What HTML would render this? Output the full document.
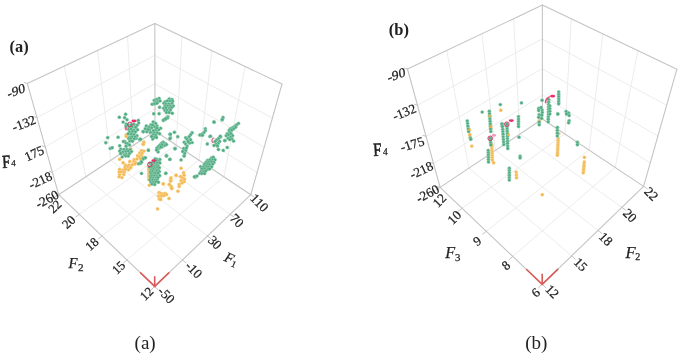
<!DOCTYPE html>
<html><head><meta charset="utf-8"><style>
html,body{margin:0;padding:0;background:#fff;width:685px;height:356px;overflow:hidden}
svg{display:block;filter:blur(0.55px)}
text{font-family:"Liberation Serif","Times New Roman",serif;fill:#222}
.tl{stroke:#222;stroke-width:0.25px}
.tt{stroke:#222;stroke-width:0.25px}
.tb{stroke:#222;stroke-width:0.6px}
</style></head><body>
<svg width="685" height="356" viewBox="0 0 685 356">
<rect width="685" height="356" fill="#fff"/>
<g stroke-linecap="round">
<line x1="64.3" y1="66.0" x2="85.8" y2="176.8" stroke="#eaeaea" stroke-width="0.9"/>
<line x1="36.9" y1="117.5" x2="154.8" y2="55.4" stroke="#eaeaea" stroke-width="0.9"/>
<line x1="97.5" y1="50.4" x2="110.7" y2="160.3" stroke="#eaeaea" stroke-width="0.9"/>
<line x1="45.2" y1="146.8" x2="154.9" y2="83.5" stroke="#eaeaea" stroke-width="0.9"/>
<line x1="127.5" y1="36.4" x2="133.7" y2="145.1" stroke="#eaeaea" stroke-width="0.9"/>
<line x1="52.4" y1="172.3" x2="154.9" y2="108.6" stroke="#eaeaea" stroke-width="0.9"/>
<line x1="182.0" y1="36.5" x2="176.2" y2="145.1" stroke="#eaeaea" stroke-width="0.9"/>
<line x1="154.8" y1="55.5" x2="272.4" y2="118.0" stroke="#eaeaea" stroke-width="0.9"/>
<line x1="211.9" y1="50.7" x2="199.1" y2="160.4" stroke="#eaeaea" stroke-width="0.9"/>
<line x1="154.9" y1="83.7" x2="264.2" y2="147.2" stroke="#eaeaea" stroke-width="0.9"/>
<line x1="245.1" y1="66.5" x2="223.9" y2="176.8" stroke="#eaeaea" stroke-width="0.9"/>
<line x1="154.9" y1="108.6" x2="257.1" y2="172.5" stroke="#eaeaea" stroke-width="0.9"/>
<line x1="79.3" y1="214.4" x2="176.1" y2="145.0" stroke="#eaeaea" stroke-width="0.9"/>
<line x1="85.9" y1="176.7" x2="182.5" y2="259.9" stroke="#eaeaea" stroke-width="0.9"/>
<line x1="102.0" y1="236.0" x2="199.0" y2="160.2" stroke="#eaeaea" stroke-width="0.9"/>
<line x1="110.9" y1="160.2" x2="207.5" y2="236.0" stroke="#eaeaea" stroke-width="0.9"/>
<line x1="127.0" y1="259.9" x2="223.8" y2="176.7" stroke="#eaeaea" stroke-width="0.9"/>
<line x1="133.8" y1="145.0" x2="230.2" y2="214.4" stroke="#eaeaea" stroke-width="0.9"/>
<line x1="27.3" y1="83.4" x2="154.8" y2="23.6" stroke="#c4c4c4" stroke-width="1.1"/>
<line x1="154.8" y1="23.6" x2="282.0" y2="84.0" stroke="#c4c4c4" stroke-width="1.1"/>
<line x1="154.8" y1="23.6" x2="155.0" y2="131.0" stroke="#c4c4c4" stroke-width="1.1"/>
<line x1="27.3" y1="83.4" x2="58.7" y2="194.7" stroke="#c4c4c4" stroke-width="1.1"/>
<line x1="282.0" y1="84.0" x2="250.8" y2="194.7" stroke="#c4c4c4" stroke-width="1.1"/>
<line x1="155.0" y1="131.0" x2="58.7" y2="194.7" stroke="#c4c4c4" stroke-width="1.1"/>
<line x1="155.0" y1="131.0" x2="250.8" y2="194.7" stroke="#c4c4c4" stroke-width="1.1"/>
<line x1="58.7" y1="194.7" x2="154.7" y2="286.4" stroke="#c4c4c4" stroke-width="1.1"/>
<line x1="154.7" y1="286.4" x2="250.8" y2="194.7" stroke="#c4c4c4" stroke-width="1.1"/>
<line x1="27.3" y1="83.4" x2="24.3" y2="82.5" stroke="#c4c4c4" stroke-width="1"/>
<line x1="36.9" y1="117.5" x2="33.9" y2="116.6" stroke="#c4c4c4" stroke-width="1"/>
<line x1="45.2" y1="146.8" x2="42.2" y2="145.9" stroke="#c4c4c4" stroke-width="1"/>
<line x1="52.4" y1="172.3" x2="49.4" y2="171.4" stroke="#c4c4c4" stroke-width="1"/>
<line x1="58.7" y1="194.7" x2="55.7" y2="193.8" stroke="#c4c4c4" stroke-width="1"/>
<line x1="58.7" y1="194.7" x2="55.3" y2="197.0" stroke="#c4c4c4" stroke-width="1"/>
<line x1="154.7" y1="286.4" x2="158.2" y2="289.8" stroke="#c4c4c4" stroke-width="1"/>
<line x1="79.3" y1="214.4" x2="75.8" y2="216.9" stroke="#c4c4c4" stroke-width="1"/>
<line x1="182.5" y1="259.9" x2="186.0" y2="262.9" stroke="#c4c4c4" stroke-width="1"/>
<line x1="102.0" y1="236.0" x2="98.5" y2="238.8" stroke="#c4c4c4" stroke-width="1"/>
<line x1="207.5" y1="236.0" x2="211.0" y2="238.7" stroke="#c4c4c4" stroke-width="1"/>
<line x1="127.0" y1="259.9" x2="123.4" y2="263.0" stroke="#c4c4c4" stroke-width="1"/>
<line x1="230.2" y1="214.4" x2="233.6" y2="216.8" stroke="#c4c4c4" stroke-width="1"/>
<line x1="154.7" y1="286.4" x2="151.2" y2="289.8" stroke="#c4c4c4" stroke-width="1"/>
<line x1="250.8" y1="194.7" x2="254.2" y2="197.0" stroke="#c4c4c4" stroke-width="1"/>
<line x1="154.7" y1="286.4" x2="140.6" y2="272.9" stroke="#d85c5a" stroke-width="1.6"/>
<line x1="154.7" y1="286.4" x2="168.8" y2="272.9" stroke="#d85c5a" stroke-width="1.6"/>
<line x1="154.7" y1="286.4" x2="154.7" y2="276.9" stroke="#d85c5a" stroke-width="1.6"/>
<line x1="446.7" y1="50.4" x2="468.9" y2="168.1" stroke="#eaeaea" stroke-width="0.9"/>
<line x1="417.5" y1="105.2" x2="542.4" y2="38.8" stroke="#eaeaea" stroke-width="0.9"/>
<line x1="481.9" y1="33.7" x2="495.4" y2="150.4" stroke="#eaeaea" stroke-width="0.9"/>
<line x1="426.0" y1="136.3" x2="542.4" y2="68.6" stroke="#eaeaea" stroke-width="0.9"/>
<line x1="513.7" y1="18.7" x2="519.8" y2="134.1" stroke="#eaeaea" stroke-width="0.9"/>
<line x1="433.5" y1="163.5" x2="542.4" y2="95.2" stroke="#eaeaea" stroke-width="0.9"/>
<line x1="571.2" y1="18.8" x2="564.9" y2="134.0" stroke="#eaeaea" stroke-width="0.9"/>
<line x1="542.4" y1="39.0" x2="666.7" y2="105.2" stroke="#eaeaea" stroke-width="0.9"/>
<line x1="602.9" y1="33.9" x2="589.1" y2="150.1" stroke="#eaeaea" stroke-width="0.9"/>
<line x1="542.4" y1="68.8" x2="657.9" y2="136.1" stroke="#eaeaea" stroke-width="0.9"/>
<line x1="637.9" y1="50.6" x2="615.2" y2="167.5" stroke="#eaeaea" stroke-width="0.9"/>
<line x1="542.4" y1="95.3" x2="650.3" y2="162.9" stroke="#eaeaea" stroke-width="0.9"/>
<line x1="462.1" y1="208.3" x2="564.8" y2="133.9" stroke="#eaeaea" stroke-width="0.9"/>
<line x1="469.0" y1="168.0" x2="571.6" y2="255.9" stroke="#eaeaea" stroke-width="0.9"/>
<line x1="486.3" y1="231.2" x2="589.0" y2="150.0" stroke="#eaeaea" stroke-width="0.9"/>
<line x1="495.6" y1="150.3" x2="598.0" y2="230.4" stroke="#eaeaea" stroke-width="0.9"/>
<line x1="512.8" y1="256.4" x2="615.2" y2="167.5" stroke="#eaeaea" stroke-width="0.9"/>
<line x1="519.9" y1="134.0" x2="621.9" y2="207.4" stroke="#eaeaea" stroke-width="0.9"/>
<line x1="407.5" y1="69.0" x2="542.4" y2="5.1" stroke="#c4c4c4" stroke-width="1.1"/>
<line x1="542.4" y1="5.1" x2="676.9" y2="69.2" stroke="#c4c4c4" stroke-width="1.1"/>
<line x1="542.4" y1="5.1" x2="542.4" y2="119.0" stroke="#c4c4c4" stroke-width="1.1"/>
<line x1="407.5" y1="69.0" x2="440.1" y2="187.4" stroke="#c4c4c4" stroke-width="1.1"/>
<line x1="676.9" y1="69.2" x2="643.6" y2="186.4" stroke="#c4c4c4" stroke-width="1.1"/>
<line x1="542.4" y1="119.0" x2="440.1" y2="187.4" stroke="#c4c4c4" stroke-width="1.1"/>
<line x1="542.4" y1="119.0" x2="643.6" y2="186.4" stroke="#c4c4c4" stroke-width="1.1"/>
<line x1="440.1" y1="187.4" x2="542.2" y2="284.3" stroke="#c4c4c4" stroke-width="1.1"/>
<line x1="542.2" y1="284.3" x2="643.6" y2="186.4" stroke="#c4c4c4" stroke-width="1.1"/>
<line x1="407.5" y1="69.0" x2="404.5" y2="68.1" stroke="#c4c4c4" stroke-width="1"/>
<line x1="417.5" y1="105.2" x2="414.5" y2="104.3" stroke="#c4c4c4" stroke-width="1"/>
<line x1="426.0" y1="136.3" x2="423.0" y2="135.4" stroke="#c4c4c4" stroke-width="1"/>
<line x1="433.5" y1="163.5" x2="430.5" y2="162.6" stroke="#c4c4c4" stroke-width="1"/>
<line x1="440.1" y1="187.4" x2="437.1" y2="186.5" stroke="#c4c4c4" stroke-width="1"/>
<line x1="440.1" y1="187.4" x2="436.4" y2="189.8" stroke="#c4c4c4" stroke-width="1"/>
<line x1="542.2" y1="284.3" x2="545.9" y2="287.8" stroke="#c4c4c4" stroke-width="1"/>
<line x1="462.1" y1="208.3" x2="458.4" y2="211.0" stroke="#c4c4c4" stroke-width="1"/>
<line x1="571.6" y1="255.9" x2="575.3" y2="259.1" stroke="#c4c4c4" stroke-width="1"/>
<line x1="486.3" y1="231.2" x2="482.5" y2="234.2" stroke="#c4c4c4" stroke-width="1"/>
<line x1="598.0" y1="230.4" x2="601.7" y2="233.3" stroke="#c4c4c4" stroke-width="1"/>
<line x1="512.8" y1="256.4" x2="509.1" y2="259.7" stroke="#c4c4c4" stroke-width="1"/>
<line x1="621.9" y1="207.4" x2="625.5" y2="210.0" stroke="#c4c4c4" stroke-width="1"/>
<line x1="542.2" y1="284.3" x2="538.5" y2="287.9" stroke="#c4c4c4" stroke-width="1"/>
<line x1="643.6" y1="186.4" x2="647.2" y2="188.8" stroke="#c4c4c4" stroke-width="1"/>
<line x1="542.2" y1="284.3" x2="526.6" y2="269.5" stroke="#d85c5a" stroke-width="1.6"/>
<line x1="542.2" y1="284.3" x2="557.7" y2="269.4" stroke="#d85c5a" stroke-width="1.6"/>
<line x1="542.2" y1="284.3" x2="542.2" y2="274.3" stroke="#d85c5a" stroke-width="1.6"/>
</g>
<g>
<circle cx="130.7" cy="148.9" r="1.72" fill="#f3b850" stroke="#fae0b0" stroke-width="0.4"/>
<circle cx="143.4" cy="142.5" r="1.72" fill="#f3b850" stroke="#fae0b0" stroke-width="0.4"/>
<circle cx="143.0" cy="144.4" r="1.72" fill="#f3b850" stroke="#fae0b0" stroke-width="0.4"/>
<circle cx="143.9" cy="142.1" r="1.72" fill="#f3b850" stroke="#fae0b0" stroke-width="0.4"/>
<circle cx="143.4" cy="144.1" r="1.72" fill="#f3b850" stroke="#fae0b0" stroke-width="0.4"/>
<circle cx="119.7" cy="159.3" r="1.72" fill="#f3b850" stroke="#fae0b0" stroke-width="0.4"/>
<circle cx="123.1" cy="162.8" r="1.72" fill="#f3b850" stroke="#fae0b0" stroke-width="0.4"/>
<circle cx="137.6" cy="155.8" r="1.72" fill="#f3b850" stroke="#fae0b0" stroke-width="0.4"/>
<circle cx="140.5" cy="157.0" r="1.72" fill="#f3b850" stroke="#fae0b0" stroke-width="0.4"/>
<circle cx="140.6" cy="159.0" r="1.72" fill="#f3b850" stroke="#fae0b0" stroke-width="0.4"/>
<circle cx="141.0" cy="161.0" r="1.72" fill="#f3b850" stroke="#fae0b0" stroke-width="0.4"/>
<circle cx="148.4" cy="166.5" r="1.72" fill="#f3b850" stroke="#fae0b0" stroke-width="0.4"/>
<circle cx="148.6" cy="169.5" r="1.72" fill="#f3b850" stroke="#fae0b0" stroke-width="0.4"/>
<circle cx="148.8" cy="172.0" r="1.72" fill="#f3b850" stroke="#fae0b0" stroke-width="0.4"/>
<circle cx="148.8" cy="174.4" r="1.72" fill="#f3b850" stroke="#fae0b0" stroke-width="0.4"/>
<circle cx="148.8" cy="176.8" r="1.72" fill="#f3b850" stroke="#fae0b0" stroke-width="0.4"/>
<circle cx="148.8" cy="179.3" r="1.72" fill="#f3b850" stroke="#fae0b0" stroke-width="0.4"/>
<circle cx="149.3" cy="185.2" r="1.72" fill="#f3b850" stroke="#fae0b0" stroke-width="0.4"/>
<circle cx="163.1" cy="183.7" r="1.72" fill="#f3b850" stroke="#fae0b0" stroke-width="0.4"/>
<circle cx="171.0" cy="177.8" r="1.72" fill="#f3b850" stroke="#fae0b0" stroke-width="0.4"/>
<circle cx="170.5" cy="180.3" r="1.72" fill="#f3b850" stroke="#fae0b0" stroke-width="0.4"/>
<circle cx="169.5" cy="184.7" r="1.72" fill="#f3b850" stroke="#fae0b0" stroke-width="0.4"/>
<circle cx="171.5" cy="187.2" r="1.72" fill="#f3b850" stroke="#fae0b0" stroke-width="0.4"/>
<circle cx="171.5" cy="188.6" r="1.72" fill="#f3b850" stroke="#fae0b0" stroke-width="0.4"/>
<circle cx="175.9" cy="175.4" r="1.72" fill="#f3b850" stroke="#fae0b0" stroke-width="0.4"/>
<circle cx="159.0" cy="192.6" r="1.72" fill="#f3b850" stroke="#fae0b0" stroke-width="0.4"/>
<circle cx="161.0" cy="193.5" r="1.72" fill="#f3b850" stroke="#fae0b0" stroke-width="0.4"/>
<circle cx="163.0" cy="194.0" r="1.72" fill="#f3b850" stroke="#fae0b0" stroke-width="0.4"/>
<circle cx="165.0" cy="193.5" r="1.72" fill="#f3b850" stroke="#fae0b0" stroke-width="0.4"/>
<circle cx="166.5" cy="194.5" r="1.72" fill="#f3b850" stroke="#fae0b0" stroke-width="0.4"/>
<circle cx="158.5" cy="196.0" r="1.72" fill="#f3b850" stroke="#fae0b0" stroke-width="0.4"/>
<circle cx="160.5" cy="196.5" r="1.72" fill="#f3b850" stroke="#fae0b0" stroke-width="0.4"/>
<circle cx="162.0" cy="195.8" r="1.72" fill="#f3b850" stroke="#fae0b0" stroke-width="0.4"/>
<circle cx="164.0" cy="195.5" r="1.72" fill="#f3b850" stroke="#fae0b0" stroke-width="0.4"/>
<circle cx="159.2" cy="199.0" r="1.72" fill="#f3b850" stroke="#fae0b0" stroke-width="0.4"/>
<circle cx="160.6" cy="199.5" r="1.72" fill="#f3b850" stroke="#fae0b0" stroke-width="0.4"/>
<circle cx="169.0" cy="198.5" r="1.72" fill="#f3b850" stroke="#fae0b0" stroke-width="0.4"/>
<circle cx="181.1" cy="168.3" r="1.72" fill="#f3b850" stroke="#fae0b0" stroke-width="0.4"/>
<circle cx="176.2" cy="175.2" r="1.72" fill="#f3b850" stroke="#fae0b0" stroke-width="0.4"/>
<circle cx="183.6" cy="172.7" r="1.72" fill="#f3b850" stroke="#fae0b0" stroke-width="0.4"/>
<circle cx="184.1" cy="175.2" r="1.72" fill="#f3b850" stroke="#fae0b0" stroke-width="0.4"/>
<circle cx="180.6" cy="176.6" r="1.72" fill="#f3b850" stroke="#fae0b0" stroke-width="0.4"/>
<circle cx="182.6" cy="178.0" r="1.72" fill="#f3b850" stroke="#fae0b0" stroke-width="0.4"/>
<circle cx="184.6" cy="179.1" r="1.72" fill="#f3b850" stroke="#fae0b0" stroke-width="0.4"/>
<circle cx="181.1" cy="180.6" r="1.72" fill="#f3b850" stroke="#fae0b0" stroke-width="0.4"/>
<circle cx="184.1" cy="181.5" r="1.72" fill="#f3b850" stroke="#fae0b0" stroke-width="0.4"/>
<circle cx="182.1" cy="183.0" r="1.72" fill="#f3b850" stroke="#fae0b0" stroke-width="0.4"/>
<circle cx="179.2" cy="184.5" r="1.72" fill="#f3b850" stroke="#fae0b0" stroke-width="0.4"/>
<circle cx="179.2" cy="186.5" r="1.72" fill="#f3b850" stroke="#fae0b0" stroke-width="0.4"/>
<circle cx="170.8" cy="178.6" r="1.72" fill="#f3b850" stroke="#fae0b0" stroke-width="0.4"/>
<circle cx="170.8" cy="181.1" r="1.72" fill="#f3b850" stroke="#fae0b0" stroke-width="0.4"/>
<circle cx="163.4" cy="184.0" r="1.72" fill="#f3b850" stroke="#fae0b0" stroke-width="0.4"/>
<circle cx="169.3" cy="184.5" r="1.72" fill="#f3b850" stroke="#fae0b0" stroke-width="0.4"/>
<circle cx="171.3" cy="186.5" r="1.72" fill="#f3b850" stroke="#fae0b0" stroke-width="0.4"/>
<circle cx="171.8" cy="188.4" r="1.72" fill="#f3b850" stroke="#fae0b0" stroke-width="0.4"/>
<circle cx="157.6" cy="208.9" r="1.72" fill="#f3b850" stroke="#fae0b0" stroke-width="0.4"/>
<circle cx="177.9" cy="191.2" r="1.72" fill="#f3b850" stroke="#fae0b0" stroke-width="0.4"/>
<circle cx="141.5" cy="150.8" r="1.72" fill="#f3b850" stroke="#fae0b0" stroke-width="0.4"/>
<circle cx="143.9" cy="151.1" r="1.72" fill="#f3b850" stroke="#fae0b0" stroke-width="0.4"/>
<circle cx="139.8" cy="152.9" r="1.72" fill="#f3b850" stroke="#fae0b0" stroke-width="0.4"/>
<circle cx="142.1" cy="153.2" r="1.72" fill="#f3b850" stroke="#fae0b0" stroke-width="0.4"/>
<circle cx="141.3" cy="155.4" r="1.72" fill="#f3b850" stroke="#fae0b0" stroke-width="0.4"/>
<circle cx="139.5" cy="157.3" r="1.72" fill="#f3b850" stroke="#fae0b0" stroke-width="0.4"/>
<circle cx="142.3" cy="157.1" r="1.72" fill="#f3b850" stroke="#fae0b0" stroke-width="0.4"/>
<circle cx="134.1" cy="159.7" r="1.72" fill="#f3b850" stroke="#fae0b0" stroke-width="0.4"/>
<circle cx="136.9" cy="159.0" r="1.72" fill="#f3b850" stroke="#fae0b0" stroke-width="0.4"/>
<circle cx="140.9" cy="158.9" r="1.72" fill="#f3b850" stroke="#fae0b0" stroke-width="0.4"/>
<circle cx="129.8" cy="161.5" r="1.72" fill="#f3b850" stroke="#fae0b0" stroke-width="0.4"/>
<circle cx="133.8" cy="161.6" r="1.72" fill="#f3b850" stroke="#fae0b0" stroke-width="0.4"/>
<circle cx="135.5" cy="162.5" r="1.72" fill="#f3b850" stroke="#fae0b0" stroke-width="0.4"/>
<circle cx="125.5" cy="165.1" r="1.72" fill="#f3b850" stroke="#fae0b0" stroke-width="0.4"/>
<circle cx="129.1" cy="165.1" r="1.72" fill="#f3b850" stroke="#fae0b0" stroke-width="0.4"/>
<circle cx="132.4" cy="164.7" r="1.72" fill="#f3b850" stroke="#fae0b0" stroke-width="0.4"/>
<circle cx="135.1" cy="163.9" r="1.72" fill="#f3b850" stroke="#fae0b0" stroke-width="0.4"/>
<circle cx="124.9" cy="167.1" r="1.72" fill="#f3b850" stroke="#fae0b0" stroke-width="0.4"/>
<circle cx="127.8" cy="166.6" r="1.72" fill="#f3b850" stroke="#fae0b0" stroke-width="0.4"/>
<circle cx="130.7" cy="167.7" r="1.72" fill="#f3b850" stroke="#fae0b0" stroke-width="0.4"/>
<circle cx="119.6" cy="169.4" r="1.72" fill="#f3b850" stroke="#fae0b0" stroke-width="0.4"/>
<circle cx="123.2" cy="170.1" r="1.72" fill="#f3b850" stroke="#fae0b0" stroke-width="0.4"/>
<circle cx="125.6" cy="169.2" r="1.72" fill="#f3b850" stroke="#fae0b0" stroke-width="0.4"/>
<circle cx="128.5" cy="169.8" r="1.72" fill="#f3b850" stroke="#fae0b0" stroke-width="0.4"/>
<circle cx="119.1" cy="172.0" r="1.72" fill="#f3b850" stroke="#fae0b0" stroke-width="0.4"/>
<circle cx="121.5" cy="172.0" r="1.72" fill="#f3b850" stroke="#fae0b0" stroke-width="0.4"/>
<circle cx="124.3" cy="172.0" r="1.72" fill="#f3b850" stroke="#fae0b0" stroke-width="0.4"/>
<circle cx="119.6" cy="174.7" r="1.72" fill="#f3b850" stroke="#fae0b0" stroke-width="0.4"/>
<circle cx="123.8" cy="174.6" r="1.72" fill="#f3b850" stroke="#fae0b0" stroke-width="0.4"/>
<circle cx="119.1" cy="176.7" r="1.72" fill="#f3b850" stroke="#fae0b0" stroke-width="0.4"/>
<circle cx="121.9" cy="177.6" r="1.72" fill="#f3b850" stroke="#fae0b0" stroke-width="0.4"/>
<circle cx="126.2" cy="134.8" r="1.72" fill="#f3b850" stroke="#fae0b0" stroke-width="0.4"/>
<circle cx="126.3" cy="136.5" r="1.72" fill="#f3b850" stroke="#fae0b0" stroke-width="0.4"/>
<circle cx="500.8" cy="110.2" r="1.72" fill="#f3b850" stroke="#fae0b0" stroke-width="0.4"/>
<circle cx="471.8" cy="146.1" r="1.72" fill="#f3b850" stroke="#fae0b0" stroke-width="0.4"/>
<circle cx="493.6" cy="162.8" r="1.72" fill="#f3b850" stroke="#fae0b0" stroke-width="0.4"/>
<circle cx="542.3" cy="194.7" r="1.72" fill="#f3b850" stroke="#fae0b0" stroke-width="0.4"/>
<circle cx="469.3" cy="129.8" r="1.72" fill="#f3b850" stroke="#fae0b0" stroke-width="0.4"/>
<circle cx="469.8" cy="134.8" r="1.72" fill="#f3b850" stroke="#fae0b0" stroke-width="0.4"/>
<circle cx="470.3" cy="137.2" r="1.72" fill="#f3b850" stroke="#fae0b0" stroke-width="0.4"/>
<circle cx="489.6" cy="116.1" r="1.72" fill="#f3b850" stroke="#fae0b0" stroke-width="0.4"/>
<circle cx="490.5" cy="126.5" r="1.72" fill="#f3b850" stroke="#fae0b0" stroke-width="0.4"/>
<circle cx="490.8" cy="128.5" r="1.72" fill="#f3b850" stroke="#fae0b0" stroke-width="0.4"/>
<circle cx="491.8" cy="144.5" r="1.72" fill="#f3b850" stroke="#fae0b0" stroke-width="0.4"/>
<circle cx="491.9" cy="146.7" r="1.72" fill="#f3b850" stroke="#fae0b0" stroke-width="0.4"/>
<circle cx="491.9" cy="148.9" r="1.72" fill="#f3b850" stroke="#fae0b0" stroke-width="0.4"/>
<circle cx="492.0" cy="151.1" r="1.72" fill="#f3b850" stroke="#fae0b0" stroke-width="0.4"/>
<circle cx="492.1" cy="153.4" r="1.72" fill="#f3b850" stroke="#fae0b0" stroke-width="0.4"/>
<circle cx="492.2" cy="155.6" r="1.72" fill="#f3b850" stroke="#fae0b0" stroke-width="0.4"/>
<circle cx="492.2" cy="157.8" r="1.72" fill="#f3b850" stroke="#fae0b0" stroke-width="0.4"/>
<circle cx="492.3" cy="160.0" r="1.72" fill="#f3b850" stroke="#fae0b0" stroke-width="0.4"/>
<circle cx="508.2" cy="134.7" r="1.72" fill="#f3b850" stroke="#fae0b0" stroke-width="0.4"/>
<circle cx="516.2" cy="172.1" r="1.72" fill="#f3b850" stroke="#fae0b0" stroke-width="0.4"/>
<circle cx="516.4" cy="174.9" r="1.72" fill="#f3b850" stroke="#fae0b0" stroke-width="0.4"/>
<circle cx="516.5" cy="177.8" r="1.72" fill="#f3b850" stroke="#fae0b0" stroke-width="0.4"/>
<circle cx="539.2" cy="120.7" r="1.72" fill="#f3b850" stroke="#fae0b0" stroke-width="0.4"/>
<circle cx="558.8" cy="133.6" r="1.72" fill="#f3b850" stroke="#fae0b0" stroke-width="0.4"/>
<circle cx="558.2" cy="138.9" r="1.72" fill="#f3b850" stroke="#fae0b0" stroke-width="0.4"/>
<circle cx="558.1" cy="140.9" r="1.72" fill="#f3b850" stroke="#fae0b0" stroke-width="0.4"/>
<circle cx="558.0" cy="143.0" r="1.72" fill="#f3b850" stroke="#fae0b0" stroke-width="0.4"/>
<circle cx="557.9" cy="145.0" r="1.72" fill="#f3b850" stroke="#fae0b0" stroke-width="0.4"/>
<circle cx="557.8" cy="147.1" r="1.72" fill="#f3b850" stroke="#fae0b0" stroke-width="0.4"/>
<circle cx="557.7" cy="149.1" r="1.72" fill="#f3b850" stroke="#fae0b0" stroke-width="0.4"/>
<circle cx="557.6" cy="151.1" r="1.72" fill="#f3b850" stroke="#fae0b0" stroke-width="0.4"/>
<circle cx="557.5" cy="153.2" r="1.72" fill="#f3b850" stroke="#fae0b0" stroke-width="0.4"/>
<circle cx="557.4" cy="155.2" r="1.72" fill="#f3b850" stroke="#fae0b0" stroke-width="0.4"/>
<circle cx="584.4" cy="157.4" r="1.72" fill="#f3b850" stroke="#fae0b0" stroke-width="0.4"/>
<circle cx="584.3" cy="161.9" r="1.72" fill="#f3b850" stroke="#fae0b0" stroke-width="0.4"/>
<circle cx="584.1" cy="164.1" r="1.72" fill="#f3b850" stroke="#fae0b0" stroke-width="0.4"/>
<circle cx="583.9" cy="166.2" r="1.72" fill="#f3b850" stroke="#fae0b0" stroke-width="0.4"/>
<circle cx="583.7" cy="168.4" r="1.72" fill="#f3b850" stroke="#fae0b0" stroke-width="0.4"/>
<circle cx="583.5" cy="170.5" r="1.72" fill="#f3b850" stroke="#fae0b0" stroke-width="0.4"/>
<circle cx="583.3" cy="172.7" r="1.72" fill="#f3b850" stroke="#fae0b0" stroke-width="0.4"/>
<circle cx="119.3" cy="117.3" r="1.72" fill="#50ab82" stroke="#b8e0cc" stroke-width="0.4"/>
<circle cx="125.6" cy="114.3" r="1.72" fill="#50ab82" stroke="#b8e0cc" stroke-width="0.4"/>
<circle cx="124.6" cy="117.7" r="1.72" fill="#50ab82" stroke="#b8e0cc" stroke-width="0.4"/>
<circle cx="127.0" cy="119.7" r="1.72" fill="#50ab82" stroke="#b8e0cc" stroke-width="0.4"/>
<circle cx="123.1" cy="122.1" r="1.72" fill="#50ab82" stroke="#b8e0cc" stroke-width="0.4"/>
<circle cx="126.1" cy="124.1" r="1.72" fill="#50ab82" stroke="#b8e0cc" stroke-width="0.4"/>
<circle cx="126.1" cy="126.3" r="1.72" fill="#50ab82" stroke="#b8e0cc" stroke-width="0.4"/>
<circle cx="107.7" cy="137.6" r="1.72" fill="#50ab82" stroke="#b8e0cc" stroke-width="0.4"/>
<circle cx="118.1" cy="137.3" r="1.72" fill="#50ab82" stroke="#b8e0cc" stroke-width="0.4"/>
<circle cx="105.8" cy="142.7" r="1.72" fill="#50ab82" stroke="#b8e0cc" stroke-width="0.4"/>
<circle cx="110.3" cy="148.4" r="1.72" fill="#50ab82" stroke="#b8e0cc" stroke-width="0.4"/>
<circle cx="112.2" cy="147.7" r="1.72" fill="#50ab82" stroke="#b8e0cc" stroke-width="0.4"/>
<circle cx="119.7" cy="145.8" r="1.72" fill="#50ab82" stroke="#b8e0cc" stroke-width="0.4"/>
<circle cx="124.8" cy="141.4" r="1.72" fill="#50ab82" stroke="#b8e0cc" stroke-width="0.4"/>
<circle cx="140.6" cy="139.5" r="1.72" fill="#50ab82" stroke="#b8e0cc" stroke-width="0.4"/>
<circle cx="138.3" cy="120.5" r="1.72" fill="#50ab82" stroke="#b8e0cc" stroke-width="0.4"/>
<circle cx="138.7" cy="123.0" r="1.72" fill="#50ab82" stroke="#b8e0cc" stroke-width="0.4"/>
<circle cx="137.1" cy="125.2" r="1.72" fill="#50ab82" stroke="#b8e0cc" stroke-width="0.4"/>
<circle cx="143.0" cy="131.5" r="1.72" fill="#50ab82" stroke="#b8e0cc" stroke-width="0.4"/>
<circle cx="139.6" cy="139.5" r="1.72" fill="#50ab82" stroke="#b8e0cc" stroke-width="0.4"/>
<circle cx="136.2" cy="138.2" r="1.72" fill="#50ab82" stroke="#b8e0cc" stroke-width="0.4"/>
<circle cx="137.5" cy="129.8" r="1.72" fill="#50ab82" stroke="#b8e0cc" stroke-width="0.4"/>
<circle cx="137.0" cy="135.7" r="1.72" fill="#50ab82" stroke="#b8e0cc" stroke-width="0.4"/>
<circle cx="123.4" cy="141.5" r="1.72" fill="#50ab82" stroke="#b8e0cc" stroke-width="0.4"/>
<circle cx="125.8" cy="143.0" r="1.72" fill="#50ab82" stroke="#b8e0cc" stroke-width="0.4"/>
<circle cx="127.8" cy="143.6" r="1.72" fill="#50ab82" stroke="#b8e0cc" stroke-width="0.4"/>
<circle cx="129.5" cy="145.0" r="1.72" fill="#50ab82" stroke="#b8e0cc" stroke-width="0.4"/>
<circle cx="126.1" cy="146.2" r="1.72" fill="#50ab82" stroke="#b8e0cc" stroke-width="0.4"/>
<circle cx="128.1" cy="124.9" r="1.72" fill="#50ab82" stroke="#b8e0cc" stroke-width="0.4"/>
<circle cx="130.9" cy="125.0" r="1.72" fill="#50ab82" stroke="#b8e0cc" stroke-width="0.4"/>
<circle cx="133.9" cy="124.4" r="1.72" fill="#50ab82" stroke="#b8e0cc" stroke-width="0.4"/>
<circle cx="129.2" cy="127.5" r="1.72" fill="#50ab82" stroke="#b8e0cc" stroke-width="0.4"/>
<circle cx="132.2" cy="126.9" r="1.72" fill="#50ab82" stroke="#b8e0cc" stroke-width="0.4"/>
<circle cx="135.6" cy="127.2" r="1.72" fill="#50ab82" stroke="#b8e0cc" stroke-width="0.4"/>
<circle cx="128.7" cy="129.5" r="1.72" fill="#50ab82" stroke="#b8e0cc" stroke-width="0.4"/>
<circle cx="131.2" cy="129.2" r="1.72" fill="#50ab82" stroke="#b8e0cc" stroke-width="0.4"/>
<circle cx="133.9" cy="129.9" r="1.72" fill="#50ab82" stroke="#b8e0cc" stroke-width="0.4"/>
<circle cx="129.7" cy="132.1" r="1.72" fill="#50ab82" stroke="#b8e0cc" stroke-width="0.4"/>
<circle cx="132.6" cy="131.5" r="1.72" fill="#50ab82" stroke="#b8e0cc" stroke-width="0.4"/>
<circle cx="135.4" cy="132.0" r="1.72" fill="#50ab82" stroke="#b8e0cc" stroke-width="0.4"/>
<circle cx="128.2" cy="133.8" r="1.72" fill="#50ab82" stroke="#b8e0cc" stroke-width="0.4"/>
<circle cx="131.4" cy="134.2" r="1.72" fill="#50ab82" stroke="#b8e0cc" stroke-width="0.4"/>
<circle cx="134.0" cy="134.6" r="1.72" fill="#50ab82" stroke="#b8e0cc" stroke-width="0.4"/>
<circle cx="129.9" cy="137.0" r="1.72" fill="#50ab82" stroke="#b8e0cc" stroke-width="0.4"/>
<circle cx="132.3" cy="136.9" r="1.72" fill="#50ab82" stroke="#b8e0cc" stroke-width="0.4"/>
<circle cx="135.0" cy="137.0" r="1.72" fill="#50ab82" stroke="#b8e0cc" stroke-width="0.4"/>
<circle cx="128.7" cy="138.5" r="1.72" fill="#50ab82" stroke="#b8e0cc" stroke-width="0.4"/>
<circle cx="130.7" cy="138.7" r="1.72" fill="#50ab82" stroke="#b8e0cc" stroke-width="0.4"/>
<circle cx="134.2" cy="138.9" r="1.72" fill="#50ab82" stroke="#b8e0cc" stroke-width="0.4"/>
<circle cx="129.8" cy="141.1" r="1.72" fill="#50ab82" stroke="#b8e0cc" stroke-width="0.4"/>
<circle cx="132.4" cy="141.2" r="1.72" fill="#50ab82" stroke="#b8e0cc" stroke-width="0.4"/>
<circle cx="120.8" cy="149.1" r="1.72" fill="#50ab82" stroke="#b8e0cc" stroke-width="0.4"/>
<circle cx="124.0" cy="149.5" r="1.72" fill="#50ab82" stroke="#b8e0cc" stroke-width="0.4"/>
<circle cx="127.0" cy="149.5" r="1.72" fill="#50ab82" stroke="#b8e0cc" stroke-width="0.4"/>
<circle cx="130.1" cy="149.6" r="1.72" fill="#50ab82" stroke="#b8e0cc" stroke-width="0.4"/>
<circle cx="119.7" cy="151.1" r="1.72" fill="#50ab82" stroke="#b8e0cc" stroke-width="0.4"/>
<circle cx="122.8" cy="152.1" r="1.72" fill="#50ab82" stroke="#b8e0cc" stroke-width="0.4"/>
<circle cx="125.8" cy="151.6" r="1.72" fill="#50ab82" stroke="#b8e0cc" stroke-width="0.4"/>
<circle cx="128.5" cy="151.2" r="1.72" fill="#50ab82" stroke="#b8e0cc" stroke-width="0.4"/>
<circle cx="131.5" cy="151.6" r="1.72" fill="#50ab82" stroke="#b8e0cc" stroke-width="0.4"/>
<circle cx="120.7" cy="153.5" r="1.72" fill="#50ab82" stroke="#b8e0cc" stroke-width="0.4"/>
<circle cx="124.3" cy="154.7" r="1.72" fill="#50ab82" stroke="#b8e0cc" stroke-width="0.4"/>
<circle cx="126.3" cy="154.4" r="1.72" fill="#50ab82" stroke="#b8e0cc" stroke-width="0.4"/>
<circle cx="129.5" cy="153.6" r="1.72" fill="#50ab82" stroke="#b8e0cc" stroke-width="0.4"/>
<circle cx="122.2" cy="156.9" r="1.72" fill="#50ab82" stroke="#b8e0cc" stroke-width="0.4"/>
<circle cx="125.7" cy="156.0" r="1.72" fill="#50ab82" stroke="#b8e0cc" stroke-width="0.4"/>
<circle cx="128.3" cy="156.0" r="1.72" fill="#50ab82" stroke="#b8e0cc" stroke-width="0.4"/>
<circle cx="159.1" cy="98.4" r="1.72" fill="#50ab82" stroke="#b8e0cc" stroke-width="0.4"/>
<circle cx="156.6" cy="99.4" r="1.72" fill="#50ab82" stroke="#b8e0cc" stroke-width="0.4"/>
<circle cx="154.2" cy="100.4" r="1.72" fill="#50ab82" stroke="#b8e0cc" stroke-width="0.4"/>
<circle cx="155.7" cy="101.9" r="1.72" fill="#50ab82" stroke="#b8e0cc" stroke-width="0.4"/>
<circle cx="158.1" cy="101.4" r="1.72" fill="#50ab82" stroke="#b8e0cc" stroke-width="0.4"/>
<circle cx="160.1" cy="100.9" r="1.72" fill="#50ab82" stroke="#b8e0cc" stroke-width="0.4"/>
<circle cx="152.2" cy="104.3" r="1.72" fill="#50ab82" stroke="#b8e0cc" stroke-width="0.4"/>
<circle cx="154.7" cy="103.8" r="1.72" fill="#50ab82" stroke="#b8e0cc" stroke-width="0.4"/>
<circle cx="157.0" cy="103.2" r="1.72" fill="#50ab82" stroke="#b8e0cc" stroke-width="0.4"/>
<circle cx="159.6" cy="107.3" r="1.72" fill="#50ab82" stroke="#b8e0cc" stroke-width="0.4"/>
<circle cx="169.2" cy="98.9" r="1.72" fill="#50ab82" stroke="#b8e0cc" stroke-width="0.4"/>
<circle cx="172.0" cy="99.5" r="1.72" fill="#50ab82" stroke="#b8e0cc" stroke-width="0.4"/>
<circle cx="165.1" cy="101.8" r="1.72" fill="#50ab82" stroke="#b8e0cc" stroke-width="0.4"/>
<circle cx="167.5" cy="100.9" r="1.72" fill="#50ab82" stroke="#b8e0cc" stroke-width="0.4"/>
<circle cx="170.4" cy="100.9" r="1.72" fill="#50ab82" stroke="#b8e0cc" stroke-width="0.4"/>
<circle cx="172.6" cy="101.2" r="1.72" fill="#50ab82" stroke="#b8e0cc" stroke-width="0.4"/>
<circle cx="163.9" cy="103.2" r="1.72" fill="#50ab82" stroke="#b8e0cc" stroke-width="0.4"/>
<circle cx="165.9" cy="104.0" r="1.72" fill="#50ab82" stroke="#b8e0cc" stroke-width="0.4"/>
<circle cx="168.8" cy="104.0" r="1.72" fill="#50ab82" stroke="#b8e0cc" stroke-width="0.4"/>
<circle cx="172.0" cy="103.5" r="1.72" fill="#50ab82" stroke="#b8e0cc" stroke-width="0.4"/>
<circle cx="165.1" cy="105.9" r="1.72" fill="#50ab82" stroke="#b8e0cc" stroke-width="0.4"/>
<circle cx="167.8" cy="105.9" r="1.72" fill="#50ab82" stroke="#b8e0cc" stroke-width="0.4"/>
<circle cx="170.4" cy="106.0" r="1.72" fill="#50ab82" stroke="#b8e0cc" stroke-width="0.4"/>
<circle cx="173.3" cy="105.9" r="1.72" fill="#50ab82" stroke="#b8e0cc" stroke-width="0.4"/>
<circle cx="163.7" cy="108.3" r="1.72" fill="#50ab82" stroke="#b8e0cc" stroke-width="0.4"/>
<circle cx="166.1" cy="107.9" r="1.72" fill="#50ab82" stroke="#b8e0cc" stroke-width="0.4"/>
<circle cx="169.5" cy="108.1" r="1.72" fill="#50ab82" stroke="#b8e0cc" stroke-width="0.4"/>
<circle cx="171.6" cy="107.6" r="1.72" fill="#50ab82" stroke="#b8e0cc" stroke-width="0.4"/>
<circle cx="165.0" cy="110.5" r="1.72" fill="#50ab82" stroke="#b8e0cc" stroke-width="0.4"/>
<circle cx="167.2" cy="110.5" r="1.72" fill="#50ab82" stroke="#b8e0cc" stroke-width="0.4"/>
<circle cx="170.4" cy="109.9" r="1.72" fill="#50ab82" stroke="#b8e0cc" stroke-width="0.4"/>
<circle cx="166.5" cy="112.6" r="1.72" fill="#50ab82" stroke="#b8e0cc" stroke-width="0.4"/>
<circle cx="169.2" cy="112.5" r="1.72" fill="#50ab82" stroke="#b8e0cc" stroke-width="0.4"/>
<circle cx="153.7" cy="113.7" r="1.72" fill="#50ab82" stroke="#b8e0cc" stroke-width="0.4"/>
<circle cx="159.1" cy="113.7" r="1.72" fill="#50ab82" stroke="#b8e0cc" stroke-width="0.4"/>
<circle cx="172.3" cy="113.3" r="1.72" fill="#50ab82" stroke="#b8e0cc" stroke-width="0.4"/>
<circle cx="167.9" cy="116.6" r="1.72" fill="#50ab82" stroke="#b8e0cc" stroke-width="0.4"/>
<circle cx="165.9" cy="118.1" r="1.72" fill="#50ab82" stroke="#b8e0cc" stroke-width="0.4"/>
<circle cx="163.4" cy="120.5" r="1.72" fill="#50ab82" stroke="#b8e0cc" stroke-width="0.4"/>
<circle cx="165.5" cy="119.0" r="1.72" fill="#50ab82" stroke="#b8e0cc" stroke-width="0.4"/>
<circle cx="167.5" cy="118.0" r="1.72" fill="#50ab82" stroke="#b8e0cc" stroke-width="0.4"/>
<circle cx="153.2" cy="121.9" r="1.72" fill="#50ab82" stroke="#b8e0cc" stroke-width="0.4"/>
<circle cx="155.7" cy="123.4" r="1.72" fill="#50ab82" stroke="#b8e0cc" stroke-width="0.4"/>
<circle cx="150.7" cy="124.9" r="1.72" fill="#50ab82" stroke="#b8e0cc" stroke-width="0.4"/>
<circle cx="146.3" cy="125.9" r="1.72" fill="#50ab82" stroke="#b8e0cc" stroke-width="0.4"/>
<circle cx="148.8" cy="127.3" r="1.72" fill="#50ab82" stroke="#b8e0cc" stroke-width="0.4"/>
<circle cx="145.3" cy="128.8" r="1.72" fill="#50ab82" stroke="#b8e0cc" stroke-width="0.4"/>
<circle cx="151.7" cy="127.8" r="1.72" fill="#50ab82" stroke="#b8e0cc" stroke-width="0.4"/>
<circle cx="154.7" cy="126.8" r="1.72" fill="#50ab82" stroke="#b8e0cc" stroke-width="0.4"/>
<circle cx="157.1" cy="125.9" r="1.72" fill="#50ab82" stroke="#b8e0cc" stroke-width="0.4"/>
<circle cx="160.6" cy="128.3" r="1.72" fill="#50ab82" stroke="#b8e0cc" stroke-width="0.4"/>
<circle cx="158.6" cy="129.8" r="1.72" fill="#50ab82" stroke="#b8e0cc" stroke-width="0.4"/>
<circle cx="155.7" cy="129.8" r="1.72" fill="#50ab82" stroke="#b8e0cc" stroke-width="0.4"/>
<circle cx="153.2" cy="130.8" r="1.72" fill="#50ab82" stroke="#b8e0cc" stroke-width="0.4"/>
<circle cx="143.4" cy="131.8" r="1.72" fill="#50ab82" stroke="#b8e0cc" stroke-width="0.4"/>
<circle cx="146.8" cy="131.8" r="1.72" fill="#50ab82" stroke="#b8e0cc" stroke-width="0.4"/>
<circle cx="150.3" cy="132.3" r="1.72" fill="#50ab82" stroke="#b8e0cc" stroke-width="0.4"/>
<circle cx="154.2" cy="132.8" r="1.72" fill="#50ab82" stroke="#b8e0cc" stroke-width="0.4"/>
<circle cx="157.1" cy="132.8" r="1.72" fill="#50ab82" stroke="#b8e0cc" stroke-width="0.4"/>
<circle cx="159.6" cy="133.7" r="1.72" fill="#50ab82" stroke="#b8e0cc" stroke-width="0.4"/>
<circle cx="153.2" cy="134.7" r="1.72" fill="#50ab82" stroke="#b8e0cc" stroke-width="0.4"/>
<circle cx="155.7" cy="135.2" r="1.72" fill="#50ab82" stroke="#b8e0cc" stroke-width="0.4"/>
<circle cx="154.2" cy="137.2" r="1.72" fill="#50ab82" stroke="#b8e0cc" stroke-width="0.4"/>
<circle cx="152.7" cy="139.1" r="1.72" fill="#50ab82" stroke="#b8e0cc" stroke-width="0.4"/>
<circle cx="140.4" cy="139.1" r="1.72" fill="#50ab82" stroke="#b8e0cc" stroke-width="0.4"/>
<circle cx="149.5" cy="129.8" r="1.72" fill="#50ab82" stroke="#b8e0cc" stroke-width="0.4"/>
<circle cx="152.5" cy="125.0" r="1.72" fill="#50ab82" stroke="#b8e0cc" stroke-width="0.4"/>
<circle cx="157.0" cy="128.0" r="1.72" fill="#50ab82" stroke="#b8e0cc" stroke-width="0.4"/>
<circle cx="151.5" cy="136.5" r="1.72" fill="#50ab82" stroke="#b8e0cc" stroke-width="0.4"/>
<circle cx="148.0" cy="129.5" r="1.72" fill="#50ab82" stroke="#b8e0cc" stroke-width="0.4"/>
<circle cx="156.5" cy="137.5" r="1.72" fill="#50ab82" stroke="#b8e0cc" stroke-width="0.4"/>
<circle cx="163.5" cy="120.0" r="1.72" fill="#50ab82" stroke="#b8e0cc" stroke-width="0.4"/>
<circle cx="165.5" cy="119.0" r="1.72" fill="#50ab82" stroke="#b8e0cc" stroke-width="0.4"/>
<circle cx="169.9" cy="134.2" r="1.72" fill="#50ab82" stroke="#b8e0cc" stroke-width="0.4"/>
<circle cx="170.4" cy="137.7" r="1.72" fill="#50ab82" stroke="#b8e0cc" stroke-width="0.4"/>
<circle cx="163.0" cy="142.1" r="1.72" fill="#50ab82" stroke="#b8e0cc" stroke-width="0.4"/>
<circle cx="165.5" cy="143.6" r="1.72" fill="#50ab82" stroke="#b8e0cc" stroke-width="0.4"/>
<circle cx="164.5" cy="145.5" r="1.72" fill="#50ab82" stroke="#b8e0cc" stroke-width="0.4"/>
<circle cx="162.1" cy="147.0" r="1.72" fill="#50ab82" stroke="#b8e0cc" stroke-width="0.4"/>
<circle cx="159.6" cy="148.0" r="1.72" fill="#50ab82" stroke="#b8e0cc" stroke-width="0.4"/>
<circle cx="157.6" cy="149.5" r="1.72" fill="#50ab82" stroke="#b8e0cc" stroke-width="0.4"/>
<circle cx="158.1" cy="151.9" r="1.72" fill="#50ab82" stroke="#b8e0cc" stroke-width="0.4"/>
<circle cx="163.1" cy="142.5" r="1.72" fill="#50ab82" stroke="#b8e0cc" stroke-width="0.4"/>
<circle cx="148.3" cy="150.0" r="1.72" fill="#50ab82" stroke="#b8e0cc" stroke-width="0.4"/>
<circle cx="174.4" cy="132.3" r="1.72" fill="#50ab82" stroke="#b8e0cc" stroke-width="0.4"/>
<circle cx="170.4" cy="134.3" r="1.72" fill="#50ab82" stroke="#b8e0cc" stroke-width="0.4"/>
<circle cx="169.9" cy="138.7" r="1.72" fill="#50ab82" stroke="#b8e0cc" stroke-width="0.4"/>
<circle cx="177.8" cy="136.7" r="1.72" fill="#50ab82" stroke="#b8e0cc" stroke-width="0.4"/>
<circle cx="166.5" cy="144.6" r="1.72" fill="#50ab82" stroke="#b8e0cc" stroke-width="0.4"/>
<circle cx="175.3" cy="148.5" r="1.72" fill="#50ab82" stroke="#b8e0cc" stroke-width="0.4"/>
<circle cx="174.9" cy="148.8" r="1.72" fill="#50ab82" stroke="#b8e0cc" stroke-width="0.4"/>
<circle cx="166.5" cy="155.4" r="1.72" fill="#50ab82" stroke="#b8e0cc" stroke-width="0.4"/>
<circle cx="166.5" cy="155.7" r="1.72" fill="#50ab82" stroke="#b8e0cc" stroke-width="0.4"/>
<circle cx="170.0" cy="159.2" r="1.72" fill="#50ab82" stroke="#b8e0cc" stroke-width="0.4"/>
<circle cx="143.0" cy="158.7" r="1.72" fill="#50ab82" stroke="#b8e0cc" stroke-width="0.4"/>
<circle cx="144.5" cy="157.8" r="1.72" fill="#50ab82" stroke="#b8e0cc" stroke-width="0.4"/>
<circle cx="141.5" cy="162.6" r="1.72" fill="#50ab82" stroke="#b8e0cc" stroke-width="0.4"/>
<circle cx="138.6" cy="163.7" r="1.72" fill="#50ab82" stroke="#b8e0cc" stroke-width="0.4"/>
<circle cx="140.5" cy="163.2" r="1.72" fill="#50ab82" stroke="#b8e0cc" stroke-width="0.4"/>
<circle cx="141.5" cy="161.7" r="1.72" fill="#50ab82" stroke="#b8e0cc" stroke-width="0.4"/>
<circle cx="143.5" cy="158.8" r="1.72" fill="#50ab82" stroke="#b8e0cc" stroke-width="0.4"/>
<circle cx="145.5" cy="157.8" r="1.72" fill="#50ab82" stroke="#b8e0cc" stroke-width="0.4"/>
<circle cx="148.4" cy="150.4" r="1.72" fill="#50ab82" stroke="#b8e0cc" stroke-width="0.4"/>
<circle cx="141.5" cy="173.4" r="1.72" fill="#50ab82" stroke="#b8e0cc" stroke-width="0.4"/>
<circle cx="165.6" cy="173.4" r="1.72" fill="#50ab82" stroke="#b8e0cc" stroke-width="0.4"/>
<circle cx="166.4" cy="156.0" r="1.72" fill="#50ab82" stroke="#b8e0cc" stroke-width="0.4"/>
<circle cx="169.8" cy="159.4" r="1.72" fill="#50ab82" stroke="#b8e0cc" stroke-width="0.4"/>
<circle cx="181.1" cy="159.9" r="1.72" fill="#50ab82" stroke="#b8e0cc" stroke-width="0.4"/>
<circle cx="184.1" cy="156.0" r="1.72" fill="#50ab82" stroke="#b8e0cc" stroke-width="0.4"/>
<circle cx="165.9" cy="173.2" r="1.72" fill="#50ab82" stroke="#b8e0cc" stroke-width="0.4"/>
<circle cx="194.9" cy="177.1" r="1.72" fill="#50ab82" stroke="#b8e0cc" stroke-width="0.4"/>
<circle cx="161.5" cy="143.5" r="1.72" fill="#50ab82" stroke="#b8e0cc" stroke-width="0.4"/>
<circle cx="160.0" cy="145.0" r="1.72" fill="#50ab82" stroke="#b8e0cc" stroke-width="0.4"/>
<circle cx="158.5" cy="146.5" r="1.72" fill="#50ab82" stroke="#b8e0cc" stroke-width="0.4"/>
<circle cx="157.0" cy="148.0" r="1.72" fill="#50ab82" stroke="#b8e0cc" stroke-width="0.4"/>
<circle cx="156.5" cy="150.0" r="1.72" fill="#50ab82" stroke="#b8e0cc" stroke-width="0.4"/>
<circle cx="162.0" cy="144.8" r="1.72" fill="#50ab82" stroke="#b8e0cc" stroke-width="0.4"/>
<circle cx="160.8" cy="146.8" r="1.72" fill="#50ab82" stroke="#b8e0cc" stroke-width="0.4"/>
<circle cx="192.1" cy="132.8" r="1.72" fill="#50ab82" stroke="#b8e0cc" stroke-width="0.4"/>
<circle cx="190.6" cy="134.8" r="1.72" fill="#50ab82" stroke="#b8e0cc" stroke-width="0.4"/>
<circle cx="189.1" cy="136.7" r="1.72" fill="#50ab82" stroke="#b8e0cc" stroke-width="0.4"/>
<circle cx="185.7" cy="137.7" r="1.72" fill="#50ab82" stroke="#b8e0cc" stroke-width="0.4"/>
<circle cx="187.1" cy="139.2" r="1.72" fill="#50ab82" stroke="#b8e0cc" stroke-width="0.4"/>
<circle cx="190.6" cy="139.7" r="1.72" fill="#50ab82" stroke="#b8e0cc" stroke-width="0.4"/>
<circle cx="192.1" cy="142.6" r="1.72" fill="#50ab82" stroke="#b8e0cc" stroke-width="0.4"/>
<circle cx="189.6" cy="143.1" r="1.72" fill="#50ab82" stroke="#b8e0cc" stroke-width="0.4"/>
<circle cx="184.2" cy="142.2" r="1.72" fill="#50ab82" stroke="#b8e0cc" stroke-width="0.4"/>
<circle cx="185.7" cy="144.1" r="1.72" fill="#50ab82" stroke="#b8e0cc" stroke-width="0.4"/>
<circle cx="187.1" cy="146.1" r="1.72" fill="#50ab82" stroke="#b8e0cc" stroke-width="0.4"/>
<circle cx="183.7" cy="148.5" r="1.72" fill="#50ab82" stroke="#b8e0cc" stroke-width="0.4"/>
<circle cx="185.7" cy="150.5" r="1.72" fill="#50ab82" stroke="#b8e0cc" stroke-width="0.4"/>
<circle cx="182.7" cy="151.5" r="1.72" fill="#50ab82" stroke="#b8e0cc" stroke-width="0.4"/>
<circle cx="184.7" cy="153.5" r="1.72" fill="#50ab82" stroke="#b8e0cc" stroke-width="0.4"/>
<circle cx="184.2" cy="155.9" r="1.72" fill="#50ab82" stroke="#b8e0cc" stroke-width="0.4"/>
<circle cx="200.4" cy="134.8" r="1.72" fill="#50ab82" stroke="#b8e0cc" stroke-width="0.4"/>
<circle cx="188.0" cy="141.5" r="1.72" fill="#50ab82" stroke="#b8e0cc" stroke-width="0.4"/>
<circle cx="186.5" cy="148.0" r="1.72" fill="#50ab82" stroke="#b8e0cc" stroke-width="0.4"/>
<circle cx="223.0" cy="117.4" r="1.72" fill="#50ab82" stroke="#b8e0cc" stroke-width="0.4"/>
<circle cx="222.1" cy="119.9" r="1.72" fill="#50ab82" stroke="#b8e0cc" stroke-width="0.4"/>
<circle cx="214.2" cy="122.3" r="1.72" fill="#50ab82" stroke="#b8e0cc" stroke-width="0.4"/>
<circle cx="205.3" cy="128.7" r="1.72" fill="#50ab82" stroke="#b8e0cc" stroke-width="0.4"/>
<circle cx="205.3" cy="130.7" r="1.72" fill="#50ab82" stroke="#b8e0cc" stroke-width="0.4"/>
<circle cx="203.9" cy="132.6" r="1.72" fill="#50ab82" stroke="#b8e0cc" stroke-width="0.4"/>
<circle cx="201.9" cy="134.1" r="1.72" fill="#50ab82" stroke="#b8e0cc" stroke-width="0.4"/>
<circle cx="199.9" cy="135.1" r="1.72" fill="#50ab82" stroke="#b8e0cc" stroke-width="0.4"/>
<circle cx="202.5" cy="135.2" r="1.72" fill="#50ab82" stroke="#b8e0cc" stroke-width="0.4"/>
<circle cx="209.8" cy="136.6" r="1.72" fill="#50ab82" stroke="#b8e0cc" stroke-width="0.4"/>
<circle cx="207.3" cy="144.0" r="1.72" fill="#50ab82" stroke="#b8e0cc" stroke-width="0.4"/>
<circle cx="220.6" cy="137.1" r="1.72" fill="#50ab82" stroke="#b8e0cc" stroke-width="0.4"/>
<circle cx="218.6" cy="138.5" r="1.72" fill="#50ab82" stroke="#b8e0cc" stroke-width="0.4"/>
<circle cx="216.6" cy="140.0" r="1.72" fill="#50ab82" stroke="#b8e0cc" stroke-width="0.4"/>
<circle cx="215.2" cy="141.5" r="1.72" fill="#50ab82" stroke="#b8e0cc" stroke-width="0.4"/>
<circle cx="219.6" cy="141.5" r="1.72" fill="#50ab82" stroke="#b8e0cc" stroke-width="0.4"/>
<circle cx="218.1" cy="143.5" r="1.72" fill="#50ab82" stroke="#b8e0cc" stroke-width="0.4"/>
<circle cx="216.0" cy="144.5" r="1.72" fill="#50ab82" stroke="#b8e0cc" stroke-width="0.4"/>
<circle cx="214.0" cy="145.5" r="1.72" fill="#50ab82" stroke="#b8e0cc" stroke-width="0.4"/>
<circle cx="220.3" cy="136.2" r="1.72" fill="#50ab82" stroke="#b8e0cc" stroke-width="0.4"/>
<circle cx="217.5" cy="146.0" r="1.72" fill="#50ab82" stroke="#b8e0cc" stroke-width="0.4"/>
<circle cx="225.0" cy="140.5" r="1.72" fill="#50ab82" stroke="#b8e0cc" stroke-width="0.4"/>
<circle cx="224.7" cy="140.6" r="1.72" fill="#50ab82" stroke="#b8e0cc" stroke-width="0.4"/>
<circle cx="218.4" cy="149.5" r="1.72" fill="#50ab82" stroke="#b8e0cc" stroke-width="0.4"/>
<circle cx="223.3" cy="150.4" r="1.72" fill="#50ab82" stroke="#b8e0cc" stroke-width="0.4"/>
<circle cx="227.2" cy="147.5" r="1.72" fill="#50ab82" stroke="#b8e0cc" stroke-width="0.4"/>
<circle cx="238.5" cy="123.4" r="1.72" fill="#50ab82" stroke="#b8e0cc" stroke-width="0.4"/>
<circle cx="236.5" cy="124.9" r="1.72" fill="#50ab82" stroke="#b8e0cc" stroke-width="0.4"/>
<circle cx="234.6" cy="126.4" r="1.72" fill="#50ab82" stroke="#b8e0cc" stroke-width="0.4"/>
<circle cx="232.6" cy="127.8" r="1.72" fill="#50ab82" stroke="#b8e0cc" stroke-width="0.4"/>
<circle cx="230.6" cy="128.8" r="1.72" fill="#50ab82" stroke="#b8e0cc" stroke-width="0.4"/>
<circle cx="229.2" cy="130.3" r="1.72" fill="#50ab82" stroke="#b8e0cc" stroke-width="0.4"/>
<circle cx="235.6" cy="127.3" r="1.72" fill="#50ab82" stroke="#b8e0cc" stroke-width="0.4"/>
<circle cx="233.6" cy="128.8" r="1.72" fill="#50ab82" stroke="#b8e0cc" stroke-width="0.4"/>
<circle cx="231.6" cy="130.3" r="1.72" fill="#50ab82" stroke="#b8e0cc" stroke-width="0.4"/>
<circle cx="229.7" cy="132.3" r="1.72" fill="#50ab82" stroke="#b8e0cc" stroke-width="0.4"/>
<circle cx="227.2" cy="133.7" r="1.72" fill="#50ab82" stroke="#b8e0cc" stroke-width="0.4"/>
<circle cx="226.2" cy="135.7" r="1.72" fill="#50ab82" stroke="#b8e0cc" stroke-width="0.4"/>
<circle cx="228.7" cy="134.7" r="1.72" fill="#50ab82" stroke="#b8e0cc" stroke-width="0.4"/>
<circle cx="231.1" cy="133.7" r="1.72" fill="#50ab82" stroke="#b8e0cc" stroke-width="0.4"/>
<circle cx="232.6" cy="135.7" r="1.72" fill="#50ab82" stroke="#b8e0cc" stroke-width="0.4"/>
<circle cx="230.6" cy="137.2" r="1.72" fill="#50ab82" stroke="#b8e0cc" stroke-width="0.4"/>
<circle cx="228.2" cy="138.2" r="1.72" fill="#50ab82" stroke="#b8e0cc" stroke-width="0.4"/>
<circle cx="232.1" cy="139.1" r="1.72" fill="#50ab82" stroke="#b8e0cc" stroke-width="0.4"/>
<circle cx="233.6" cy="141.1" r="1.72" fill="#50ab82" stroke="#b8e0cc" stroke-width="0.4"/>
<circle cx="229.7" cy="139.6" r="1.72" fill="#50ab82" stroke="#b8e0cc" stroke-width="0.4"/>
<circle cx="213.9" cy="121.9" r="1.72" fill="#50ab82" stroke="#b8e0cc" stroke-width="0.4"/>
<circle cx="222.3" cy="119.5" r="1.72" fill="#50ab82" stroke="#b8e0cc" stroke-width="0.4"/>
<circle cx="210.5" cy="136.2" r="1.72" fill="#50ab82" stroke="#b8e0cc" stroke-width="0.4"/>
<circle cx="211.4" cy="158.0" r="1.72" fill="#50ab82" stroke="#b8e0cc" stroke-width="0.4"/>
<circle cx="213.3" cy="157.3" r="1.72" fill="#50ab82" stroke="#b8e0cc" stroke-width="0.4"/>
<circle cx="207.5" cy="160.5" r="1.72" fill="#50ab82" stroke="#b8e0cc" stroke-width="0.4"/>
<circle cx="209.7" cy="160.0" r="1.72" fill="#50ab82" stroke="#b8e0cc" stroke-width="0.4"/>
<circle cx="212.6" cy="159.8" r="1.72" fill="#50ab82" stroke="#b8e0cc" stroke-width="0.4"/>
<circle cx="215.0" cy="159.8" r="1.72" fill="#50ab82" stroke="#b8e0cc" stroke-width="0.4"/>
<circle cx="205.9" cy="162.4" r="1.72" fill="#50ab82" stroke="#b8e0cc" stroke-width="0.4"/>
<circle cx="208.4" cy="162.2" r="1.72" fill="#50ab82" stroke="#b8e0cc" stroke-width="0.4"/>
<circle cx="211.5" cy="161.8" r="1.72" fill="#50ab82" stroke="#b8e0cc" stroke-width="0.4"/>
<circle cx="213.9" cy="162.5" r="1.72" fill="#50ab82" stroke="#b8e0cc" stroke-width="0.4"/>
<circle cx="204.5" cy="164.3" r="1.72" fill="#50ab82" stroke="#b8e0cc" stroke-width="0.4"/>
<circle cx="207.6" cy="164.3" r="1.72" fill="#50ab82" stroke="#b8e0cc" stroke-width="0.4"/>
<circle cx="209.6" cy="164.5" r="1.72" fill="#50ab82" stroke="#b8e0cc" stroke-width="0.4"/>
<circle cx="212.7" cy="164.1" r="1.72" fill="#50ab82" stroke="#b8e0cc" stroke-width="0.4"/>
<circle cx="200.6" cy="166.6" r="1.72" fill="#50ab82" stroke="#b8e0cc" stroke-width="0.4"/>
<circle cx="203.7" cy="166.7" r="1.72" fill="#50ab82" stroke="#b8e0cc" stroke-width="0.4"/>
<circle cx="206.4" cy="166.5" r="1.72" fill="#50ab82" stroke="#b8e0cc" stroke-width="0.4"/>
<circle cx="208.4" cy="167.0" r="1.72" fill="#50ab82" stroke="#b8e0cc" stroke-width="0.4"/>
<circle cx="211.6" cy="166.8" r="1.72" fill="#50ab82" stroke="#b8e0cc" stroke-width="0.4"/>
<circle cx="201.8" cy="168.7" r="1.72" fill="#50ab82" stroke="#b8e0cc" stroke-width="0.4"/>
<circle cx="204.7" cy="168.8" r="1.72" fill="#50ab82" stroke="#b8e0cc" stroke-width="0.4"/>
<circle cx="207.6" cy="169.4" r="1.72" fill="#50ab82" stroke="#b8e0cc" stroke-width="0.4"/>
<circle cx="209.6" cy="168.9" r="1.72" fill="#50ab82" stroke="#b8e0cc" stroke-width="0.4"/>
<circle cx="201.1" cy="171.5" r="1.72" fill="#50ab82" stroke="#b8e0cc" stroke-width="0.4"/>
<circle cx="203.7" cy="171.2" r="1.72" fill="#50ab82" stroke="#b8e0cc" stroke-width="0.4"/>
<circle cx="205.6" cy="171.1" r="1.72" fill="#50ab82" stroke="#b8e0cc" stroke-width="0.4"/>
<circle cx="199.8" cy="173.4" r="1.72" fill="#50ab82" stroke="#b8e0cc" stroke-width="0.4"/>
<circle cx="201.9" cy="173.5" r="1.72" fill="#50ab82" stroke="#b8e0cc" stroke-width="0.4"/>
<circle cx="204.6" cy="173.5" r="1.72" fill="#50ab82" stroke="#b8e0cc" stroke-width="0.4"/>
<circle cx="195.4" cy="177.0" r="1.72" fill="#50ab82" stroke="#b8e0cc" stroke-width="0.4"/>
<circle cx="197.0" cy="176.0" r="1.72" fill="#50ab82" stroke="#b8e0cc" stroke-width="0.4"/>
<circle cx="194.4" cy="176.7" r="1.72" fill="#50ab82" stroke="#b8e0cc" stroke-width="0.4"/>
<circle cx="155.2" cy="158.8" r="1.72" fill="#50ab82" stroke="#b8e0cc" stroke-width="0.4"/>
<circle cx="156.8" cy="159.5" r="1.72" fill="#50ab82" stroke="#b8e0cc" stroke-width="0.4"/>
<circle cx="159.9" cy="159.5" r="1.72" fill="#50ab82" stroke="#b8e0cc" stroke-width="0.4"/>
<circle cx="153.5" cy="161.6" r="1.72" fill="#50ab82" stroke="#b8e0cc" stroke-width="0.4"/>
<circle cx="156.4" cy="160.9" r="1.72" fill="#50ab82" stroke="#b8e0cc" stroke-width="0.4"/>
<circle cx="158.6" cy="161.5" r="1.72" fill="#50ab82" stroke="#b8e0cc" stroke-width="0.4"/>
<circle cx="150.1" cy="163.3" r="1.72" fill="#50ab82" stroke="#b8e0cc" stroke-width="0.4"/>
<circle cx="152.2" cy="163.1" r="1.72" fill="#50ab82" stroke="#b8e0cc" stroke-width="0.4"/>
<circle cx="154.6" cy="162.9" r="1.72" fill="#50ab82" stroke="#b8e0cc" stroke-width="0.4"/>
<circle cx="157.3" cy="163.1" r="1.72" fill="#50ab82" stroke="#b8e0cc" stroke-width="0.4"/>
<circle cx="159.9" cy="162.9" r="1.72" fill="#50ab82" stroke="#b8e0cc" stroke-width="0.4"/>
<circle cx="151.6" cy="165.5" r="1.72" fill="#50ab82" stroke="#b8e0cc" stroke-width="0.4"/>
<circle cx="154.0" cy="165.7" r="1.72" fill="#50ab82" stroke="#b8e0cc" stroke-width="0.4"/>
<circle cx="156.4" cy="165.4" r="1.72" fill="#50ab82" stroke="#b8e0cc" stroke-width="0.4"/>
<circle cx="158.0" cy="165.6" r="1.72" fill="#50ab82" stroke="#b8e0cc" stroke-width="0.4"/>
<circle cx="149.7" cy="167.3" r="1.72" fill="#50ab82" stroke="#b8e0cc" stroke-width="0.4"/>
<circle cx="152.5" cy="167.5" r="1.72" fill="#50ab82" stroke="#b8e0cc" stroke-width="0.4"/>
<circle cx="154.7" cy="167.8" r="1.72" fill="#50ab82" stroke="#b8e0cc" stroke-width="0.4"/>
<circle cx="157.3" cy="167.3" r="1.72" fill="#50ab82" stroke="#b8e0cc" stroke-width="0.4"/>
<circle cx="159.4" cy="167.8" r="1.72" fill="#50ab82" stroke="#b8e0cc" stroke-width="0.4"/>
<circle cx="151.2" cy="169.8" r="1.72" fill="#50ab82" stroke="#b8e0cc" stroke-width="0.4"/>
<circle cx="153.5" cy="169.3" r="1.72" fill="#50ab82" stroke="#b8e0cc" stroke-width="0.4"/>
<circle cx="156.0" cy="169.8" r="1.72" fill="#50ab82" stroke="#b8e0cc" stroke-width="0.4"/>
<circle cx="158.1" cy="169.8" r="1.72" fill="#50ab82" stroke="#b8e0cc" stroke-width="0.4"/>
<circle cx="150.4" cy="171.9" r="1.72" fill="#50ab82" stroke="#b8e0cc" stroke-width="0.4"/>
<circle cx="152.7" cy="171.2" r="1.72" fill="#50ab82" stroke="#b8e0cc" stroke-width="0.4"/>
<circle cx="154.9" cy="171.9" r="1.72" fill="#50ab82" stroke="#b8e0cc" stroke-width="0.4"/>
<circle cx="156.8" cy="171.4" r="1.72" fill="#50ab82" stroke="#b8e0cc" stroke-width="0.4"/>
<circle cx="159.4" cy="171.6" r="1.72" fill="#50ab82" stroke="#b8e0cc" stroke-width="0.4"/>
<circle cx="151.1" cy="173.7" r="1.72" fill="#50ab82" stroke="#b8e0cc" stroke-width="0.4"/>
<circle cx="153.8" cy="173.3" r="1.72" fill="#50ab82" stroke="#b8e0cc" stroke-width="0.4"/>
<circle cx="155.6" cy="173.4" r="1.72" fill="#50ab82" stroke="#b8e0cc" stroke-width="0.4"/>
<circle cx="158.1" cy="173.3" r="1.72" fill="#50ab82" stroke="#b8e0cc" stroke-width="0.4"/>
<circle cx="150.4" cy="176.1" r="1.72" fill="#50ab82" stroke="#b8e0cc" stroke-width="0.4"/>
<circle cx="152.0" cy="175.8" r="1.72" fill="#50ab82" stroke="#b8e0cc" stroke-width="0.4"/>
<circle cx="154.6" cy="175.6" r="1.72" fill="#50ab82" stroke="#b8e0cc" stroke-width="0.4"/>
<circle cx="157.1" cy="175.9" r="1.72" fill="#50ab82" stroke="#b8e0cc" stroke-width="0.4"/>
<circle cx="159.7" cy="175.7" r="1.72" fill="#50ab82" stroke="#b8e0cc" stroke-width="0.4"/>
<circle cx="150.9" cy="177.7" r="1.72" fill="#50ab82" stroke="#b8e0cc" stroke-width="0.4"/>
<circle cx="153.3" cy="177.9" r="1.72" fill="#50ab82" stroke="#b8e0cc" stroke-width="0.4"/>
<circle cx="156.2" cy="177.8" r="1.72" fill="#50ab82" stroke="#b8e0cc" stroke-width="0.4"/>
<circle cx="158.0" cy="177.6" r="1.72" fill="#50ab82" stroke="#b8e0cc" stroke-width="0.4"/>
<circle cx="149.9" cy="180.1" r="1.72" fill="#50ab82" stroke="#b8e0cc" stroke-width="0.4"/>
<circle cx="152.7" cy="179.9" r="1.72" fill="#50ab82" stroke="#b8e0cc" stroke-width="0.4"/>
<circle cx="155.1" cy="180.1" r="1.72" fill="#50ab82" stroke="#b8e0cc" stroke-width="0.4"/>
<circle cx="157.1" cy="179.9" r="1.72" fill="#50ab82" stroke="#b8e0cc" stroke-width="0.4"/>
<circle cx="151.2" cy="182.2" r="1.72" fill="#50ab82" stroke="#b8e0cc" stroke-width="0.4"/>
<circle cx="153.5" cy="182.2" r="1.72" fill="#50ab82" stroke="#b8e0cc" stroke-width="0.4"/>
<circle cx="156.0" cy="181.8" r="1.72" fill="#50ab82" stroke="#b8e0cc" stroke-width="0.4"/>
<circle cx="158.4" cy="182.2" r="1.72" fill="#50ab82" stroke="#b8e0cc" stroke-width="0.4"/>
<circle cx="152.0" cy="184.1" r="1.72" fill="#50ab82" stroke="#b8e0cc" stroke-width="0.4"/>
<circle cx="154.7" cy="184.5" r="1.72" fill="#50ab82" stroke="#b8e0cc" stroke-width="0.4"/>
<circle cx="482.2" cy="112.1" r="1.72" fill="#50ab82" stroke="#b8e0cc" stroke-width="0.4"/>
<circle cx="500.3" cy="104.6" r="1.72" fill="#50ab82" stroke="#b8e0cc" stroke-width="0.4"/>
<circle cx="521.5" cy="102.9" r="1.72" fill="#50ab82" stroke="#b8e0cc" stroke-width="0.4"/>
<circle cx="542.1" cy="100.2" r="1.72" fill="#50ab82" stroke="#b8e0cc" stroke-width="0.4"/>
<circle cx="557.8" cy="113.9" r="1.72" fill="#50ab82" stroke="#b8e0cc" stroke-width="0.4"/>
<circle cx="520.1" cy="156.2" r="1.72" fill="#50ab82" stroke="#b8e0cc" stroke-width="0.4"/>
<circle cx="520.1" cy="157.9" r="1.72" fill="#50ab82" stroke="#b8e0cc" stroke-width="0.4"/>
<circle cx="519.0" cy="137.2" r="1.72" fill="#50ab82" stroke="#b8e0cc" stroke-width="0.4"/>
<circle cx="577.4" cy="142.3" r="1.72" fill="#50ab82" stroke="#b8e0cc" stroke-width="0.4"/>
<circle cx="577.4" cy="144.7" r="1.72" fill="#50ab82" stroke="#b8e0cc" stroke-width="0.4"/>
<circle cx="467.3" cy="121.0" r="1.72" fill="#50ab82" stroke="#b8e0cc" stroke-width="0.4"/>
<circle cx="467.6" cy="123.6" r="1.72" fill="#50ab82" stroke="#b8e0cc" stroke-width="0.4"/>
<circle cx="467.9" cy="126.2" r="1.72" fill="#50ab82" stroke="#b8e0cc" stroke-width="0.4"/>
<circle cx="468.3" cy="128.9" r="1.72" fill="#50ab82" stroke="#b8e0cc" stroke-width="0.4"/>
<circle cx="468.6" cy="131.5" r="1.72" fill="#50ab82" stroke="#b8e0cc" stroke-width="0.4"/>
<circle cx="470.3" cy="138.0" r="1.72" fill="#50ab82" stroke="#b8e0cc" stroke-width="0.4"/>
<circle cx="470.8" cy="139.3" r="1.72" fill="#50ab82" stroke="#b8e0cc" stroke-width="0.4"/>
<circle cx="489.3" cy="111.3" r="1.72" fill="#50ab82" stroke="#b8e0cc" stroke-width="0.4"/>
<circle cx="489.5" cy="113.8" r="1.72" fill="#50ab82" stroke="#b8e0cc" stroke-width="0.4"/>
<circle cx="489.7" cy="116.3" r="1.72" fill="#50ab82" stroke="#b8e0cc" stroke-width="0.4"/>
<circle cx="489.9" cy="118.9" r="1.72" fill="#50ab82" stroke="#b8e0cc" stroke-width="0.4"/>
<circle cx="490.1" cy="121.4" r="1.72" fill="#50ab82" stroke="#b8e0cc" stroke-width="0.4"/>
<circle cx="490.2" cy="123.9" r="1.72" fill="#50ab82" stroke="#b8e0cc" stroke-width="0.4"/>
<circle cx="490.4" cy="126.5" r="1.72" fill="#50ab82" stroke="#b8e0cc" stroke-width="0.4"/>
<circle cx="490.6" cy="129.0" r="1.72" fill="#50ab82" stroke="#b8e0cc" stroke-width="0.4"/>
<circle cx="490.8" cy="131.5" r="1.72" fill="#50ab82" stroke="#b8e0cc" stroke-width="0.4"/>
<circle cx="490.4" cy="138.8" r="1.72" fill="#50ab82" stroke="#b8e0cc" stroke-width="0.4"/>
<circle cx="490.5" cy="140.9" r="1.72" fill="#50ab82" stroke="#b8e0cc" stroke-width="0.4"/>
<circle cx="490.7" cy="142.9" r="1.72" fill="#50ab82" stroke="#b8e0cc" stroke-width="0.4"/>
<circle cx="490.8" cy="145.0" r="1.72" fill="#50ab82" stroke="#b8e0cc" stroke-width="0.4"/>
<circle cx="488.2" cy="150.5" r="1.72" fill="#50ab82" stroke="#b8e0cc" stroke-width="0.4"/>
<circle cx="488.3" cy="152.8" r="1.72" fill="#50ab82" stroke="#b8e0cc" stroke-width="0.4"/>
<circle cx="488.3" cy="155.1" r="1.72" fill="#50ab82" stroke="#b8e0cc" stroke-width="0.4"/>
<circle cx="488.4" cy="157.4" r="1.72" fill="#50ab82" stroke="#b8e0cc" stroke-width="0.4"/>
<circle cx="488.4" cy="159.7" r="1.72" fill="#50ab82" stroke="#b8e0cc" stroke-width="0.4"/>
<circle cx="488.5" cy="162.0" r="1.72" fill="#50ab82" stroke="#b8e0cc" stroke-width="0.4"/>
<circle cx="502.3" cy="124.0" r="1.72" fill="#50ab82" stroke="#b8e0cc" stroke-width="0.4"/>
<circle cx="502.5" cy="126.6" r="1.72" fill="#50ab82" stroke="#b8e0cc" stroke-width="0.4"/>
<circle cx="502.7" cy="129.2" r="1.72" fill="#50ab82" stroke="#b8e0cc" stroke-width="0.4"/>
<circle cx="502.9" cy="131.7" r="1.72" fill="#50ab82" stroke="#b8e0cc" stroke-width="0.4"/>
<circle cx="503.1" cy="134.3" r="1.72" fill="#50ab82" stroke="#b8e0cc" stroke-width="0.4"/>
<circle cx="503.2" cy="136.9" r="1.72" fill="#50ab82" stroke="#b8e0cc" stroke-width="0.4"/>
<circle cx="503.4" cy="139.4" r="1.72" fill="#50ab82" stroke="#b8e0cc" stroke-width="0.4"/>
<circle cx="503.6" cy="142.0" r="1.72" fill="#50ab82" stroke="#b8e0cc" stroke-width="0.4"/>
<circle cx="503.8" cy="144.6" r="1.72" fill="#50ab82" stroke="#b8e0cc" stroke-width="0.4"/>
<circle cx="507.0" cy="126.5" r="1.72" fill="#50ab82" stroke="#b8e0cc" stroke-width="0.4"/>
<circle cx="507.1" cy="128.9" r="1.72" fill="#50ab82" stroke="#b8e0cc" stroke-width="0.4"/>
<circle cx="507.2" cy="131.4" r="1.72" fill="#50ab82" stroke="#b8e0cc" stroke-width="0.4"/>
<circle cx="507.3" cy="133.8" r="1.72" fill="#50ab82" stroke="#b8e0cc" stroke-width="0.4"/>
<circle cx="507.4" cy="136.3" r="1.72" fill="#50ab82" stroke="#b8e0cc" stroke-width="0.4"/>
<circle cx="507.4" cy="138.7" r="1.72" fill="#50ab82" stroke="#b8e0cc" stroke-width="0.4"/>
<circle cx="507.5" cy="141.2" r="1.72" fill="#50ab82" stroke="#b8e0cc" stroke-width="0.4"/>
<circle cx="507.6" cy="143.6" r="1.72" fill="#50ab82" stroke="#b8e0cc" stroke-width="0.4"/>
<circle cx="507.7" cy="146.1" r="1.72" fill="#50ab82" stroke="#b8e0cc" stroke-width="0.4"/>
<circle cx="507.8" cy="148.5" r="1.72" fill="#50ab82" stroke="#b8e0cc" stroke-width="0.4"/>
<circle cx="501.8" cy="124.0" r="1.72" fill="#50ab82" stroke="#b8e0cc" stroke-width="0.4"/>
<circle cx="502.3" cy="126.5" r="1.72" fill="#50ab82" stroke="#b8e0cc" stroke-width="0.4"/>
<circle cx="518.5" cy="116.6" r="1.72" fill="#50ab82" stroke="#b8e0cc" stroke-width="0.4"/>
<circle cx="518.5" cy="119.1" r="1.72" fill="#50ab82" stroke="#b8e0cc" stroke-width="0.4"/>
<circle cx="518.5" cy="121.5" r="1.72" fill="#50ab82" stroke="#b8e0cc" stroke-width="0.4"/>
<circle cx="518.5" cy="124.0" r="1.72" fill="#50ab82" stroke="#b8e0cc" stroke-width="0.4"/>
<circle cx="518.5" cy="126.5" r="1.72" fill="#50ab82" stroke="#b8e0cc" stroke-width="0.4"/>
<circle cx="509.3" cy="168.2" r="1.72" fill="#50ab82" stroke="#b8e0cc" stroke-width="0.4"/>
<circle cx="509.3" cy="170.6" r="1.72" fill="#50ab82" stroke="#b8e0cc" stroke-width="0.4"/>
<circle cx="509.3" cy="172.9" r="1.72" fill="#50ab82" stroke="#b8e0cc" stroke-width="0.4"/>
<circle cx="509.3" cy="175.3" r="1.72" fill="#50ab82" stroke="#b8e0cc" stroke-width="0.4"/>
<circle cx="509.3" cy="177.6" r="1.72" fill="#50ab82" stroke="#b8e0cc" stroke-width="0.4"/>
<circle cx="509.3" cy="180.0" r="1.72" fill="#50ab82" stroke="#b8e0cc" stroke-width="0.4"/>
<circle cx="538.7" cy="108.4" r="1.72" fill="#50ab82" stroke="#b8e0cc" stroke-width="0.4"/>
<circle cx="542.1" cy="109.9" r="1.72" fill="#50ab82" stroke="#b8e0cc" stroke-width="0.4"/>
<circle cx="542.3" cy="112.5" r="1.72" fill="#50ab82" stroke="#b8e0cc" stroke-width="0.4"/>
<circle cx="539.2" cy="114.8" r="1.72" fill="#50ab82" stroke="#b8e0cc" stroke-width="0.4"/>
<circle cx="541.8" cy="115.2" r="1.72" fill="#50ab82" stroke="#b8e0cc" stroke-width="0.4"/>
<circle cx="538.7" cy="117.3" r="1.72" fill="#50ab82" stroke="#b8e0cc" stroke-width="0.4"/>
<circle cx="541.6" cy="118.3" r="1.72" fill="#50ab82" stroke="#b8e0cc" stroke-width="0.4"/>
<circle cx="539.2" cy="122.2" r="1.72" fill="#50ab82" stroke="#b8e0cc" stroke-width="0.4"/>
<circle cx="539.2" cy="124.7" r="1.72" fill="#50ab82" stroke="#b8e0cc" stroke-width="0.4"/>
<circle cx="538.7" cy="110.5" r="1.72" fill="#50ab82" stroke="#b8e0cc" stroke-width="0.4"/>
<circle cx="541.0" cy="107.5" r="1.72" fill="#50ab82" stroke="#b8e0cc" stroke-width="0.4"/>
<circle cx="548.7" cy="99.7" r="1.72" fill="#50ab82" stroke="#b8e0cc" stroke-width="0.4"/>
<circle cx="548.6" cy="102.2" r="1.72" fill="#50ab82" stroke="#b8e0cc" stroke-width="0.4"/>
<circle cx="548.6" cy="104.6" r="1.72" fill="#50ab82" stroke="#b8e0cc" stroke-width="0.4"/>
<circle cx="548.5" cy="107.1" r="1.72" fill="#50ab82" stroke="#b8e0cc" stroke-width="0.4"/>
<circle cx="548.5" cy="109.5" r="1.72" fill="#50ab82" stroke="#b8e0cc" stroke-width="0.4"/>
<circle cx="548.4" cy="112.0" r="1.72" fill="#50ab82" stroke="#b8e0cc" stroke-width="0.4"/>
<circle cx="548.4" cy="114.4" r="1.72" fill="#50ab82" stroke="#b8e0cc" stroke-width="0.4"/>
<circle cx="548.3" cy="116.9" r="1.72" fill="#50ab82" stroke="#b8e0cc" stroke-width="0.4"/>
<circle cx="548.3" cy="119.3" r="1.72" fill="#50ab82" stroke="#b8e0cc" stroke-width="0.4"/>
<circle cx="548.2" cy="121.8" r="1.72" fill="#50ab82" stroke="#b8e0cc" stroke-width="0.4"/>
<circle cx="549.8" cy="106.0" r="1.72" fill="#50ab82" stroke="#b8e0cc" stroke-width="0.4"/>
<circle cx="549.8" cy="108.7" r="1.72" fill="#50ab82" stroke="#b8e0cc" stroke-width="0.4"/>
<circle cx="549.8" cy="111.3" r="1.72" fill="#50ab82" stroke="#b8e0cc" stroke-width="0.4"/>
<circle cx="549.8" cy="114.0" r="1.72" fill="#50ab82" stroke="#b8e0cc" stroke-width="0.4"/>
<circle cx="558.7" cy="92.0" r="1.72" fill="#50ab82" stroke="#b8e0cc" stroke-width="0.4"/>
<circle cx="558.7" cy="94.4" r="1.72" fill="#50ab82" stroke="#b8e0cc" stroke-width="0.4"/>
<circle cx="558.7" cy="96.7" r="1.72" fill="#50ab82" stroke="#b8e0cc" stroke-width="0.4"/>
<circle cx="558.7" cy="99.1" r="1.72" fill="#50ab82" stroke="#b8e0cc" stroke-width="0.4"/>
<circle cx="558.7" cy="101.4" r="1.72" fill="#50ab82" stroke="#b8e0cc" stroke-width="0.4"/>
<circle cx="558.7" cy="103.8" r="1.72" fill="#50ab82" stroke="#b8e0cc" stroke-width="0.4"/>
<circle cx="557.8" cy="114.0" r="1.72" fill="#50ab82" stroke="#b8e0cc" stroke-width="0.4"/>
<circle cx="566.1" cy="111.5" r="1.72" fill="#50ab82" stroke="#b8e0cc" stroke-width="0.4"/>
<circle cx="568.6" cy="113.0" r="1.72" fill="#50ab82" stroke="#b8e0cc" stroke-width="0.4"/>
<circle cx="569.1" cy="115.5" r="1.72" fill="#50ab82" stroke="#b8e0cc" stroke-width="0.4"/>
<circle cx="566.5" cy="114.0" r="1.72" fill="#50ab82" stroke="#b8e0cc" stroke-width="0.4"/>
<circle cx="569.1" cy="120.8" r="1.72" fill="#50ab82" stroke="#b8e0cc" stroke-width="0.4"/>
<circle cx="568.6" cy="122.8" r="1.72" fill="#50ab82" stroke="#b8e0cc" stroke-width="0.4"/>
<circle cx="557.5" cy="127.4" r="1.72" fill="#50ab82" stroke="#b8e0cc" stroke-width="0.4"/>
<circle cx="557.3" cy="127.7" r="1.72" fill="#50ab82" stroke="#b8e0cc" stroke-width="0.4"/>
<circle cx="557.3" cy="130.5" r="1.72" fill="#50ab82" stroke="#b8e0cc" stroke-width="0.4"/>
<circle cx="557.3" cy="133.2" r="1.72" fill="#50ab82" stroke="#b8e0cc" stroke-width="0.4"/>
<circle cx="557.3" cy="136.0" r="1.72" fill="#50ab82" stroke="#b8e0cc" stroke-width="0.4"/>
<circle cx="490.2" cy="138.3" r="1.72" fill="#50ab82" stroke="#b8e0cc" stroke-width="0.4"/>
<circle cx="506.8" cy="124.2" r="1.72" fill="#50ab82" stroke="#b8e0cc" stroke-width="0.4"/>
<circle cx="129.9" cy="124.4" r="2.3" fill="none" stroke="#d03a66" stroke-width="1.0"/>
<circle cx="149.9" cy="164.5" r="2.3" fill="none" stroke="#d03a66" stroke-width="1.0"/>
<ellipse cx="134.0" cy="121.0" rx="2.6" ry="1.4" fill="#e8306a"/>
<ellipse cx="153.9" cy="160.6" rx="2.6" ry="1.4" fill="#e8306a"/>
<path d="M214.3,138.1 A2.3,2.3 0 0 0 213.6,142.6" fill="none" stroke="#d6567c" stroke-width="1.5" opacity="0.8"/>
<ellipse cx="125.9" cy="128.8" rx="1.3" ry="1.8" fill="#e0507a" opacity="0.85"/>
<circle cx="489.6" cy="116.1" r="1.25" fill="#f2b447"/>
<circle cx="490.6" cy="126.8" r="1.25" fill="#f2b447"/>
<circle cx="469.3" cy="129.8" r="1.25" fill="#f2b447"/>
<circle cx="508.2" cy="134.7" r="1.25" fill="#f2b447"/>
<circle cx="469.8" cy="134.9" r="1.25" fill="#f2b447"/>
<circle cx="490.2" cy="138.3" r="2.3" fill="none" stroke="#d03a66" stroke-width="1.0"/>
<circle cx="506.8" cy="124.2" r="2.3" fill="none" stroke="#d03a66" stroke-width="1.0"/>
<ellipse cx="511.3" cy="120.6" rx="2.6" ry="1.4" fill="#e8306a"/>
<ellipse cx="552.6" cy="96.2" rx="2.6" ry="1.4" fill="#e8306a"/>
<path d="M545.6,103.2 Q545.2,98.4 549.8,96.6" fill="none" stroke="#e0356c" stroke-width="1.5" opacity="0.9"/>
<ellipse cx="493.9" cy="135.3" rx="2.4" ry="1.4" fill="#f39ab8"/>
</g>
<g>
<text class="tl" x="0" y="0" transform="matrix(0.9896,-0.3799,0.1392,0.9903,16.2,90.8)" font-size="13.2" text-anchor="middle" dominant-baseline="central">-90</text>
<text class="tl" x="0" y="0" transform="matrix(0.9336,-0.3584,0.3584,0.9336,23.8,123.3)" font-size="13.2" text-anchor="middle" dominant-baseline="central">-132</text>
<text class="tl" x="0" y="0" transform="matrix(0.9135,-0.4067,0.4067,0.9135,34.2,153.3)" font-size="13.2" text-anchor="middle" dominant-baseline="central">175</text>
<text class="tl" x="0" y="0" transform="matrix(0.9063,-0.4226,0.4226,0.9063,40.3,180.2)" font-size="13.2" text-anchor="middle" dominant-baseline="central">-218</text>
<text class="tl" x="0" y="0" transform="matrix(0.8829,-0.4695,0.4695,0.8829,47.0,199.2)" font-size="13.2" text-anchor="middle" dominant-baseline="central">-260</text>
<text class="tl" x="0" y="0" transform="matrix(0.7193,-0.6947,0.6947,0.7193,55.0,206.8)" font-size="12.8" text-anchor="middle" dominant-baseline="central">22</text>
<text class="tl" x="0" y="0" transform="matrix(0.7193,-0.6947,0.6947,0.7193,68.9,222.3)" font-size="12.8" text-anchor="middle" dominant-baseline="central">20</text>
<text class="tl" x="0" y="0" transform="matrix(0.7431,-0.6691,0.6691,0.7431,92.1,244.2)" font-size="12.8" text-anchor="middle" dominant-baseline="central">18</text>
<text class="tl" x="0" y="0" transform="matrix(0.7193,-0.6947,0.6947,0.7193,118.7,267.8)" font-size="12.8" text-anchor="middle" dominant-baseline="central">15</text>
<text class="tl" x="0" y="0" transform="matrix(0.7071,-0.7071,0.7071,0.7071,146.8,294.0)" font-size="12.8" text-anchor="middle" dominant-baseline="central">12</text>
<text class="tl" x="0" y="0" transform="matrix(0.7071,0.7071,-0.7071,0.7071,166.5,295.0)" font-size="13.2" text-anchor="middle" dominant-baseline="central">-50</text>
<text class="tl" x="0" y="0" transform="matrix(0.7071,0.7071,-0.7071,0.7071,193.9,269.8)" font-size="13.2" text-anchor="middle" dominant-baseline="central">-10</text>
<text class="tl" x="0" y="0" transform="matrix(0.7071,0.7071,-0.7071,0.7071,215.0,242.4)" font-size="13.2" text-anchor="middle" dominant-baseline="central">30</text>
<text class="tl" x="0" y="0" transform="matrix(0.7071,0.7071,-0.7071,0.7071,237.0,220.5)" font-size="13.2" text-anchor="middle" dominant-baseline="central">70</text>
<text class="tl" x="0" y="0" transform="matrix(0.7071,0.7071,-0.7071,0.7071,259.4,202.7)" font-size="13.2" text-anchor="middle" dominant-baseline="central">110</text>
<text class="tl" x="0" y="0" transform="matrix(1.0022,-0.3451,0.1392,0.9903,396.4,74.8)" font-size="13.2" text-anchor="middle" dominant-baseline="central">-90</text>
<text class="tl" x="0" y="0" transform="matrix(0.9272,-0.3746,0.3746,0.9272,404.2,112.1)" font-size="13.2" text-anchor="middle" dominant-baseline="central">-132</text>
<text class="tl" x="0" y="0" transform="matrix(0.9613,-0.2756,0.3420,0.9397,412.1,144.1)" font-size="13.2" text-anchor="middle" dominant-baseline="central">-175</text>
<text class="tl" x="0" y="0" transform="matrix(0.9063,-0.4226,0.4226,0.9063,421.4,170.1)" font-size="13.2" text-anchor="middle" dominant-baseline="central">-218</text>
<text class="tl" x="0" y="0" transform="matrix(0.8829,-0.4695,0.4695,0.8829,427.5,193.5)" font-size="13.2" text-anchor="middle" dominant-baseline="central">-260</text>
<text class="tl" x="0" y="0" transform="matrix(0.7071,-0.7071,0.7071,0.7071,439.4,200.3)" font-size="13.2" text-anchor="middle" dominant-baseline="central">12</text>
<text class="tl" x="0" y="0" transform="matrix(0.7071,-0.7071,0.7071,0.7071,454.3,217.4)" font-size="13.2" text-anchor="middle" dominant-baseline="central">10</text>
<text class="tt" x="0" y="0" transform="matrix(0.8192,-0.5736,0.5736,0.8192,477.1,241.0)" font-size="13.0" text-anchor="middle" dominant-baseline="central">9</text>
<text class="tt" x="0" y="0" transform="matrix(0.7660,-0.6428,0.6428,0.7660,505.9,265.3)" font-size="13.0" text-anchor="middle" dominant-baseline="central">8</text>
<text class="tt" x="0" y="0" transform="matrix(0.7660,-0.6428,0.6428,0.7660,535.6,292.4)" font-size="13.0" text-anchor="middle" dominant-baseline="central">6</text>
<text class="tl" x="0" y="0" transform="matrix(0.7071,0.7071,-0.7071,0.7071,552.3,291.4)" font-size="13.2" text-anchor="middle" dominant-baseline="central">12</text>
<text class="tl" x="0" y="0" transform="matrix(0.7071,0.7071,-0.7071,0.7071,580.8,264.4)" font-size="13.2" text-anchor="middle" dominant-baseline="central">15</text>
<text class="tl" x="0" y="0" transform="matrix(0.7071,0.7071,-0.7071,0.7071,605.9,238.9)" font-size="13.2" text-anchor="middle" dominant-baseline="central">18</text>
<text class="tl" x="0" y="0" transform="matrix(0.7071,0.7071,-0.7071,0.7071,630.0,215.4)" font-size="13.2" text-anchor="middle" dominant-baseline="central">20</text>
<text class="tl" x="0" y="0" transform="matrix(0.7071,0.7071,-0.7071,0.7071,651.4,193.8)" font-size="13.2" text-anchor="middle" dominant-baseline="central">22</text>
<text class="tb" x="0" y="0" font-size="18.4" font-style="normal" transform="translate(2.4,167.9) rotate(-3) scale(0.78,1)">F</text><text class="tt" x="11.2" y="166.4" font-size="8.9">4</text>
<text class="tt" x="0" y="0" font-size="14.8" font-style="italic" transform="translate(68.6,268.1) rotate(0) scale(1.0,1)">F</text><text class="tt" x="78.1" y="270.5" font-size="11.2">2</text>
<g transform="translate(223.2,260.5) rotate(24)"><text class="tt" x="0" y="0" font-size="14.5" font-style="italic" transform="scale(1.0,1)">F</text><text class="tt" x="0" y="0" font-size="9" transform="translate(8.8,2.0) rotate(0)">1</text></g>
<text class="tb" x="0" y="0" font-size="18.6" font-style="normal" transform="translate(373.4,156) rotate(-3) scale(0.8,1)">F</text><text class="tt" x="383.0" y="154.8" font-size="9.3">4</text>
<text class="tt" x="0" y="0" font-size="16.2" font-style="italic" transform="translate(445.2,258.1) rotate(0) scale(1.0,1)">F</text><text class="tt" x="454.9" y="260.6" font-size="10.8">3</text>
<text class="tt" x="0" y="0" font-size="16.6" font-style="italic" transform="translate(625.6,258.4) rotate(0) scale(1.0,1)">F</text><text class="tt" x="635.3" y="260.4" font-size="10.0">2</text>
<text class="pl" x="9.5" y="51.6" font-size="16.4" font-weight="bold">(a)</text>
<text class="pl" x="388.8" y="35.3" font-size="16.5" font-weight="bold">(b)</text>
<text class="pl" x="134.6" y="349" font-size="19">(a)</text>
<text class="pl" x="525.2" y="349" font-size="19">(b)</text>
</g>
</svg>
</body></html>
